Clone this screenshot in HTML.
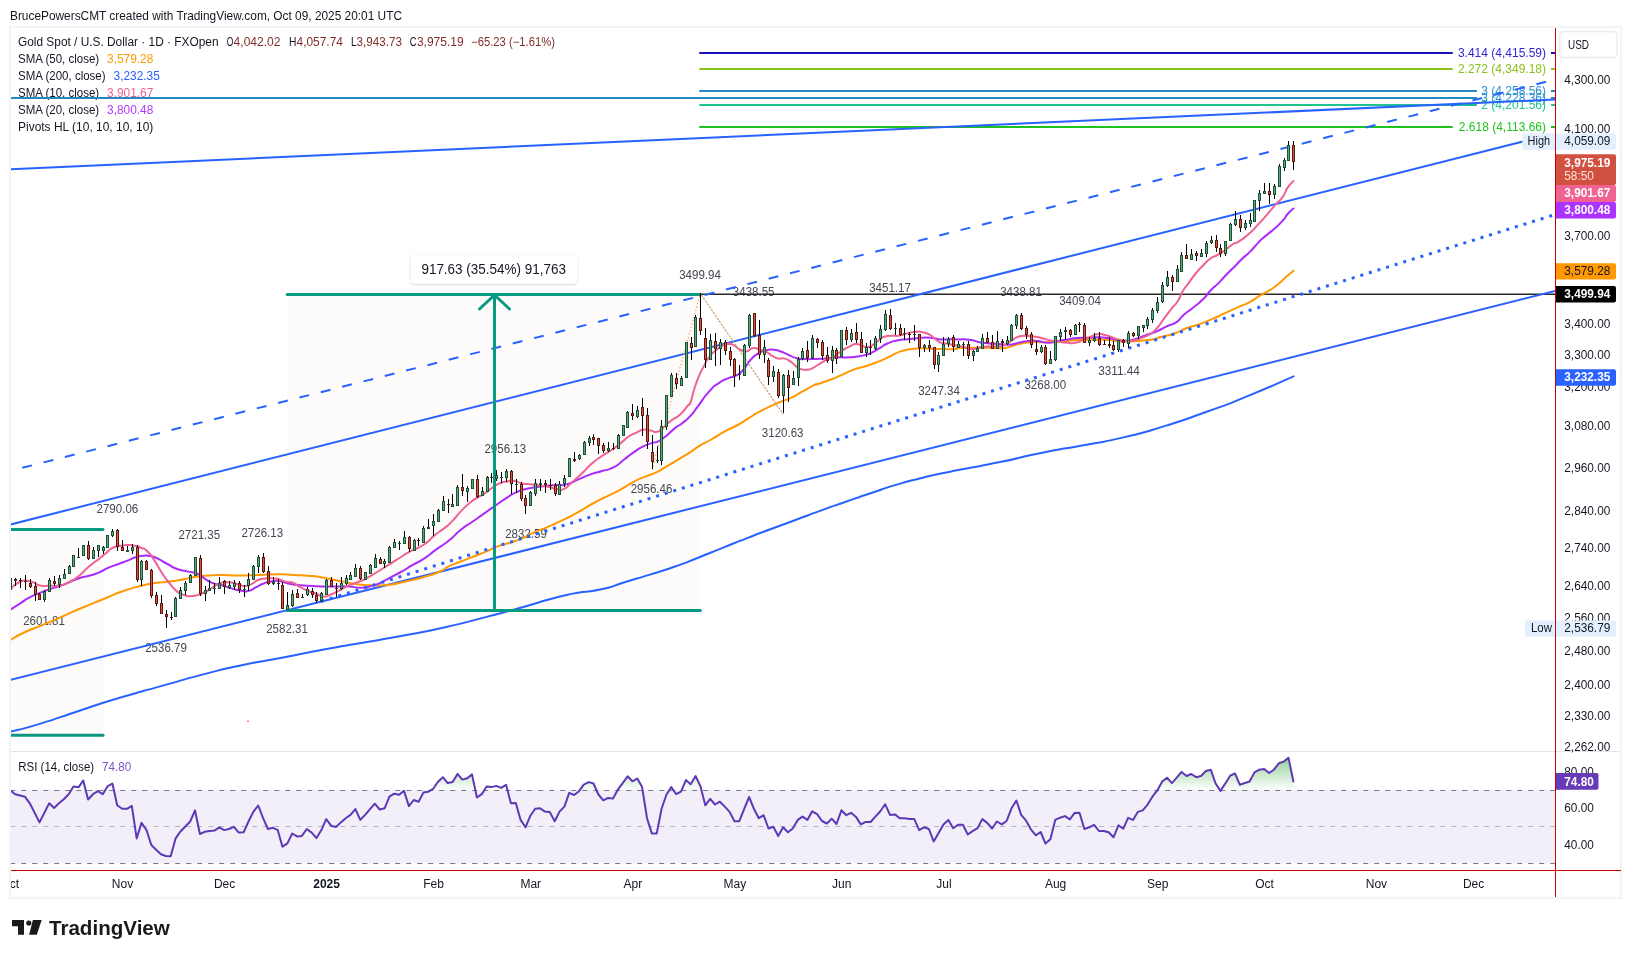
<!DOCTYPE html>
<html><head><meta charset="utf-8"><title>Chart</title>
<style>html,body{margin:0;padding:0;background:#fff;overflow:hidden}svg{display:block;will-change:transform;opacity:0.9999}</style></head>
<body>
<svg width="1631" height="958" viewBox="0 0 1631 958" font-family='"Liberation Sans", sans-serif'>
<defs>
<clipPath id="main"><rect x="11" y="28" width="1544" height="723"/></clipPath>
<clipPath id="rsi"><rect x="11" y="752" width="1544" height="118"/></clipPath>
<clipPath id="ob"><rect x="11" y="752" width="1544" height="38.4"/></clipPath>
<linearGradient id="gg" x1="0" y1="735.4" x2="0" y2="790.4" gradientUnits="userSpaceOnUse"><stop offset="0" stop-color="#4caf50" stop-opacity="1"/><stop offset="1" stop-color="#4caf50" stop-opacity="0"/></linearGradient>
<filter id="sh" x="-10%" y="-30%" width="120%" height="170%"><feDropShadow dx="0" dy="1" stdDeviation="1.5" flood-color="#000" flood-opacity="0.18"/></filter>
</defs>
<rect x="0.0" y="0.0" width="1631.0" height="958.0" fill="#ffffff" />
<text x="10.0" y="19.6" font-size="12.6" fill="#131722" text-anchor="start" textLength="392.0" lengthAdjust="spacingAndGlyphs" >BrucePowersCMT created with TradingView.com, Oct 09, 2025 20:01 UTC</text>
<rect x="10" y="27" width="1611" height="871" fill="#ffffff" stroke="#f4f4f4" stroke-width="2"/>
<g clip-path="url(#main)">
<rect x="11.0" y="529.5" width="92.5" height="206.0" fill="#fdfcfb" />
<rect x="287.0" y="294.3" width="413.8" height="316.0" fill="#fdfcfb" />
<text x="117.4" y="513.2" font-size="12" fill="#434651" text-anchor="middle" textLength="41.7" lengthAdjust="spacingAndGlyphs" >2790.06</text>
<text x="199.3" y="539.1" font-size="12" fill="#434651" text-anchor="middle" textLength="41.7" lengthAdjust="spacingAndGlyphs" >2721.35</text>
<text x="262.3" y="537.3" font-size="12" fill="#434651" text-anchor="middle" textLength="41.7" lengthAdjust="spacingAndGlyphs" >2726.13</text>
<text x="44.0" y="625.3" font-size="12" fill="#434651" text-anchor="middle" textLength="41.7" lengthAdjust="spacingAndGlyphs" >2601.81</text>
<text x="166.0" y="652.3" font-size="12" fill="#434651" text-anchor="middle" textLength="41.7" lengthAdjust="spacingAndGlyphs" >2536.79</text>
<text x="287.0" y="633.3" font-size="12" fill="#434651" text-anchor="middle" textLength="41.7" lengthAdjust="spacingAndGlyphs" >2582.31</text>
<text x="505.3" y="453.3" font-size="12" fill="#434651" text-anchor="middle" textLength="41.7" lengthAdjust="spacingAndGlyphs" >2956.13</text>
<text x="526.0" y="537.6" font-size="12" fill="#434651" text-anchor="middle" textLength="41.7" lengthAdjust="spacingAndGlyphs" >2832.59</text>
<text x="651.5" y="493.3" font-size="12" fill="#434651" text-anchor="middle" textLength="41.7" lengthAdjust="spacingAndGlyphs" >2956.46</text>
<text x="700.0" y="278.5" font-size="12" fill="#434651" text-anchor="middle" textLength="41.7" lengthAdjust="spacingAndGlyphs" >3499.94</text>
<text x="753.7" y="295.7" font-size="12" fill="#434651" text-anchor="middle" textLength="41.7" lengthAdjust="spacingAndGlyphs" >3438.55</text>
<text x="782.7" y="437.3" font-size="12" fill="#434651" text-anchor="middle" textLength="41.7" lengthAdjust="spacingAndGlyphs" >3120.63</text>
<text x="890.0" y="291.8" font-size="12" fill="#434651" text-anchor="middle" textLength="41.7" lengthAdjust="spacingAndGlyphs" >3451.17</text>
<text x="939.0" y="395.3" font-size="12" fill="#434651" text-anchor="middle" textLength="41.7" lengthAdjust="spacingAndGlyphs" >3247.34</text>
<text x="1021.0" y="296.3" font-size="12" fill="#434651" text-anchor="middle" textLength="41.7" lengthAdjust="spacingAndGlyphs" >3438.81</text>
<text x="1045.3" y="388.8" font-size="12" fill="#434651" text-anchor="middle" textLength="41.7" lengthAdjust="spacingAndGlyphs" >3268.00</text>
<text x="1080.0" y="305.3" font-size="12" fill="#434651" text-anchor="middle" textLength="41.7" lengthAdjust="spacingAndGlyphs" >3409.04</text>
<text x="1119.0" y="375.3" font-size="12" fill="#434651" text-anchor="middle" textLength="41.7" lengthAdjust="spacingAndGlyphs" >3311.44</text>
<line x1="699.3" y1="53.0" x2="1452.7" y2="53.0" stroke="#1a12b8" stroke-width="2" />
<line x1="1551.0" y1="53.0" x2="1555.0" y2="53.0" stroke="#1a12b8" stroke-width="2" />
<text x="1546.0" y="56.9" font-size="12" fill="#3324d6" text-anchor="end" >3.414 (4,415.59)</text>
<line x1="699.3" y1="69.0" x2="1452.7" y2="69.0" stroke="#8bc21a" stroke-width="2" />
<line x1="1551.0" y1="69.0" x2="1555.0" y2="69.0" stroke="#8bc21a" stroke-width="2" />
<text x="1546.0" y="72.9" font-size="12" fill="#8bc21a" text-anchor="end" >2.272 (4,349.18)</text>
<line x1="699.3" y1="91.0" x2="1476.9" y2="91.0" stroke="#2389c4" stroke-width="2" />
<line x1="1551.0" y1="91.0" x2="1555.0" y2="91.0" stroke="#2389c4" stroke-width="2" />
<text x="1546.0" y="94.9" font-size="12" fill="#2b93d1" text-anchor="end" >3 (4,258.56)</text>
<line x1="11.0" y1="98.0" x2="1476.9" y2="98.0" stroke="#2389c4" stroke-width="2" />
<line x1="1551.0" y1="98.0" x2="1555.0" y2="98.0" stroke="#2389c4" stroke-width="2" />
<text x="1546.0" y="101.9" font-size="12" fill="#2b93d1" text-anchor="end" >3 (4,228.36)</text>
<line x1="699.3" y1="105.0" x2="1476.9" y2="105.0" stroke="#1fc48c" stroke-width="2" />
<line x1="1551.0" y1="105.0" x2="1555.0" y2="105.0" stroke="#1fc48c" stroke-width="2" />
<text x="1546.0" y="108.9" font-size="12" fill="#1fc48c" text-anchor="end" >2 (4,201.56)</text>
<line x1="699.3" y1="127.0" x2="1452.7" y2="127.0" stroke="#1ec31e" stroke-width="2" />
<line x1="1551.0" y1="127.0" x2="1555.0" y2="127.0" stroke="#1ec31e" stroke-width="2" />
<text x="1546.0" y="130.9" font-size="12" fill="#1ec31e" text-anchor="end" >2.618 (4,113.66)</text>
<line x1="700.6" y1="294.3" x2="1555.0" y2="294.3" stroke="#2a2a2a" stroke-width="1.6" />
<line x1="10.0" y1="169.3" x2="1555.0" y2="99.5" stroke="#2962ff" stroke-width="2" />
<line x1="10.4" y1="524.5" x2="1523.0" y2="141.5" stroke="#2962ff" stroke-width="2" />
<line x1="10.0" y1="680.0" x2="1555.0" y2="291.0" stroke="#2962ff" stroke-width="2" />
<line x1="10.4" y1="470.8" x2="1546.0" y2="81.8" stroke="#2962ff" stroke-width="2" stroke-dasharray="10,12" stroke-dashoffset="9.8"/>
<path d="M10.1,731.7 C20.2,729.0 16.9,730.8 40.5,723.6 C64.1,716.4 53.9,719.0 80.9,710.2 C107.9,701.4 94.4,705.4 121.4,697.3 C148.4,689.2 134.9,693.5 161.9,685.9 C188.9,678.3 175.3,681.6 202.3,674.6 C229.3,667.6 215.8,670.6 242.8,664.9 C269.8,659.2 256.3,662.7 283.3,657.6 C310.3,652.5 296.8,654.5 323.8,649.5 C350.8,644.5 337.2,647.3 364.2,642.6 C391.2,637.9 377.7,640.4 404.7,635.3 C431.7,630.2 418.2,633.3 445.2,627.2 C472.2,621.1 458.6,624.1 485.6,617.1 C512.6,610.1 499.1,613.6 526.1,606.2 C553.1,598.8 542.0,600.4 566.6,594.9 C591.2,589.4 580.7,593.8 600.0,589.6 C619.3,585.4 608.2,587.1 624.5,582.2 C640.8,577.3 632.6,580.0 649.0,574.9 C665.4,569.8 657.2,572.7 673.6,567.0 C690.0,561.3 681.8,564.1 698.1,557.7 C714.4,551.3 706.3,554.4 722.6,547.9 C738.9,541.4 730.7,544.5 747.1,538.1 C763.5,531.7 755.3,534.9 771.7,528.8 C788.1,522.7 779.9,525.8 796.2,519.7 C812.5,513.6 804.4,516.5 820.7,510.6 C837.0,504.7 828.8,507.7 845.2,502.0 C861.6,496.3 853.4,499.0 869.8,493.5 C886.2,488.0 878.0,490.3 894.3,485.4 C910.6,480.5 902.5,482.8 918.8,478.7 C935.1,474.6 926.9,476.6 943.3,473.1 C959.7,469.6 949.0,471.9 967.9,468.2 C986.8,464.5 974.4,467.4 1000.0,462.1 C1025.6,456.8 1016.3,458.0 1044.7,452.3 C1073.1,446.6 1058.2,450.1 1085.2,445.0 C1112.2,439.9 1098.6,443.4 1125.6,436.9 C1152.6,430.4 1139.1,434.0 1166.1,425.6 C1193.1,417.2 1179.6,421.5 1206.6,411.8 C1233.6,402.1 1218.0,408.2 1247.0,396.4 C1276.0,384.6 1278.1,383.1 1293.6,376.4" fill="none" stroke="#2962ff" stroke-width="2" stroke-linejoin="round" stroke-linecap="round" />
<path d="M10.1,640.2 C15.1,637.5 13.6,637.3 25.2,632.0 C36.7,626.6 31.7,629.6 44.8,624.1 C57.9,618.7 51.3,621.3 64.4,615.6 C77.5,609.8 70.9,612.5 84.0,607.0 C97.1,601.5 90.6,604.3 103.6,599.0 C116.7,593.7 110.2,595.5 123.3,591.0 C136.3,586.5 132.3,588.2 142.9,585.5 C153.5,582.9 147.0,584.3 155.1,583.1 C163.3,581.8 159.2,582.9 167.4,581.8 C175.6,580.8 171.5,581.4 179.7,580.0 C187.8,578.6 184.4,578.8 191.9,577.5 C199.5,576.2 192.7,577.0 202.3,576.1 C211.8,575.2 208.4,575.1 220.7,574.9 C232.9,574.7 226.4,575.5 239.0,575.5 C251.7,575.5 245.6,575.3 258.7,574.9 C271.7,574.5 266.4,574.3 278.3,574.3 C290.1,574.3 283.6,574.4 294.2,574.9 C304.9,575.4 300.0,574.9 310.2,575.9 C320.4,576.9 315.9,576.4 324.9,578.0 C333.9,579.5 329.0,578.8 337.1,580.4 C345.3,582.0 341.2,581.4 349.4,582.9 C357.6,584.3 353.5,583.9 361.7,584.7 C369.8,585.5 364.5,585.3 373.9,585.3 C383.4,585.3 379.4,586.0 390.0,584.7 C400.6,583.4 394.3,584.0 405.7,581.4 C417.0,578.9 413.0,580.2 424.0,577.0 C435.1,573.9 429.8,575.9 438.8,572.0 C447.8,568.1 441.2,569.8 451.0,565.4 C460.8,560.9 456.7,563.1 468.2,558.6 C479.6,554.1 475.6,556.0 485.4,551.9 C495.2,547.8 489.4,549.4 497.6,546.4 C505.8,543.3 501.7,545.3 509.9,542.7 C518.1,540.0 514.0,541.9 522.1,538.4 C530.3,534.9 526.2,535.9 534.4,532.3 C542.6,528.6 538.5,530.8 546.7,527.3 C554.8,523.9 549.5,526.3 558.9,521.8 C568.4,517.3 562.8,520.5 575.0,513.9 C587.2,507.2 584.2,508.1 595.6,502.0 C606.9,495.8 600.5,499.6 609.0,495.4 C617.6,491.1 613.1,493.7 621.3,489.2 C629.5,484.7 625.4,486.2 633.6,481.9 C641.7,477.6 638.5,479.4 645.8,476.4 C653.2,473.3 649.1,475.7 655.6,472.7 C662.2,469.6 658.1,471.5 665.5,467.2 C672.8,462.9 669.5,464.7 677.7,459.8 C685.9,454.9 682.6,457.1 690.0,452.4 C697.3,447.7 692.4,450.2 699.8,445.7 C707.1,441.2 703.9,443.7 712.1,439.0 C720.2,434.3 716.1,436.1 724.3,431.6 C732.5,427.1 728.4,430.0 736.6,425.5 C744.8,421.0 741.0,422.8 748.8,418.1 C756.6,413.4 749.6,416.7 760.0,411.4 C770.4,406.0 770.1,406.3 780.1,402.0 C790.0,397.7 782.5,401.9 789.9,398.4 C797.2,395.0 794.0,396.2 802.1,391.7 C810.3,387.2 809.7,387.3 814.4,384.9 C819.1,382.6 811.6,386.2 816.3,384.6 C821.0,383.1 820.4,383.4 828.6,380.3 C836.7,377.3 832.7,378.9 840.8,375.4 C849.0,371.9 844.9,373.0 853.1,369.9 C861.3,366.8 857.2,368.9 865.4,366.2 C873.5,363.6 869.4,365.2 877.6,361.9 C885.8,358.7 881.7,360.1 889.9,356.4 C898.1,352.7 894.0,353.4 902.1,350.9 C910.3,348.4 906.2,349.6 914.4,348.8 C922.6,348.0 918.5,348.4 926.7,348.4 C934.8,348.5 929.5,348.8 938.9,349.0 C948.4,349.3 948.9,349.4 955.0,349.0 C961.1,348.7 952.4,348.3 957.3,348.0 C962.1,347.6 961.3,348.1 969.5,348.0 C977.7,347.9 973.6,347.7 981.8,347.7 C990.0,347.7 985.9,348.0 994.0,348.0 C1002.2,348.0 998.1,349.0 1006.3,347.7 C1014.5,346.4 1010.4,345.9 1018.6,344.0 C1026.7,342.2 1022.7,342.8 1030.8,342.2 C1039.0,341.6 1034.9,342.2 1043.1,342.2 C1051.3,342.2 1047.2,342.6 1055.4,342.2 C1063.5,341.8 1059.4,341.8 1067.6,341.0 C1075.8,340.2 1071.7,340.2 1079.9,339.8 C1088.1,339.3 1084.0,339.8 1092.1,339.8 C1100.3,339.8 1096.2,339.3 1104.4,339.8 C1112.6,340.2 1108.5,340.5 1116.7,341.0 C1124.8,341.5 1118.0,341.7 1128.9,341.4 C1139.9,341.0 1138.6,341.4 1149.5,339.8 C1160.5,338.3 1153.6,338.8 1161.8,336.8 C1170.0,334.7 1165.9,336.6 1174.0,333.7 C1182.2,330.9 1178.1,331.3 1186.3,328.2 C1194.5,325.1 1190.4,327.4 1198.6,324.5 C1206.7,321.7 1201.8,323.5 1210.8,319.6 C1219.8,315.7 1216.6,317.0 1225.6,312.9 C1234.5,308.8 1229.6,311.0 1237.8,307.3 C1246.0,303.7 1242.7,305.7 1250.1,301.8 C1257.4,297.9 1253.3,299.6 1259.9,295.7 C1266.4,291.8 1263.6,294.1 1269.7,290.2 C1275.8,286.3 1273.0,288.3 1278.3,284.0 C1283.6,279.8 1280.5,281.7 1285.6,277.3 C1290.7,272.9 1291.0,273.0 1293.6,270.8" fill="none" stroke="#ff9800" stroke-width="2" stroke-linejoin="round" stroke-linecap="round" />
<path d="M10.7,609.4 C13.9,607.4 13.8,607.4 20.3,603.3 C26.7,599.2 23.5,600.6 30.1,597.2 C36.6,593.7 33.3,595.5 39.9,592.9 C46.4,590.2 43.2,591.4 49.7,589.2 C56.2,586.9 53.0,588.4 59.5,586.1 C66.0,583.9 62.8,585.1 69.3,582.4 C75.9,579.8 72.6,580.4 79.1,578.2 C85.7,575.9 82.4,577.5 88.9,575.7 C95.5,573.9 92.2,575.3 98.7,572.6 C105.3,570.0 102.0,570.6 108.6,567.7 C115.1,564.9 111.8,566.5 118.4,564.0 C124.9,561.6 122.4,562.6 128.2,560.4 C133.9,558.1 130.6,558.8 135.5,557.3 C140.4,555.8 138.0,556.2 142.9,555.8 C147.8,555.4 145.3,555.2 150.2,556.1 C155.1,557.0 151.9,555.9 157.6,558.5 C163.3,561.2 160.9,560.6 167.4,564.0 C174.0,567.5 170.7,566.5 177.2,569.0 C183.8,571.4 180.3,569.8 187.0,571.4 C193.7,573.0 191.5,571.3 197.4,573.7 C203.3,576.1 199.8,575.5 204.7,578.6 C209.6,581.6 206.3,580.6 212.1,582.9 C217.8,585.1 215.3,583.5 221.9,585.3 C228.4,587.2 225.2,586.5 231.7,588.4 C238.2,590.2 235.8,590.0 241.5,590.8 C247.2,591.7 244.0,592.1 248.9,590.8 C253.8,589.6 251.3,589.6 256.2,587.2 C261.1,584.7 258.7,585.3 263.6,583.5 C268.5,581.6 266.0,582.5 270.9,581.6 C275.8,580.8 272.6,580.4 278.3,581.0 C284.0,581.6 280.7,582.0 288.1,583.5 C295.5,584.9 292.2,584.5 300.4,585.3 C308.5,586.1 304.4,585.5 312.6,585.9 C320.8,586.3 316.7,586.3 324.9,586.5 C333.1,586.7 329.0,586.5 337.1,586.5 C345.3,586.5 341.2,586.1 349.4,586.5 C357.6,587.0 354.3,588.0 361.7,587.8 C369.0,587.6 364.9,587.8 371.5,585.9 C378.0,584.1 371.5,586.9 381.3,582.3 C391.0,577.6 390.6,577.6 400.8,572.0 C410.9,566.4 404.0,569.8 411.8,565.4 C419.6,560.9 415.9,563.9 424.0,558.6 C432.2,553.3 428.1,555.3 436.3,549.4 C444.5,543.5 440.4,547.4 448.6,540.8 C456.7,534.3 452.7,536.3 460.8,529.8 C469.0,523.3 464.9,526.9 473.1,521.2 C481.3,515.5 477.2,518.4 485.4,512.6 C493.5,506.9 490.3,509.2 497.6,504.0 C505.0,498.9 500.9,501.4 507.4,497.3 C514.0,493.2 510.7,494.6 517.2,491.8 C523.8,488.9 520.5,490.3 527.1,488.7 C533.6,487.2 530.3,488.1 536.9,487.1 C543.4,486.1 540.1,486.4 546.7,485.7 C553.2,485.0 549.9,485.5 556.5,485.0 C563.0,484.6 558.6,486.5 566.3,484.4 C574.0,482.4 571.1,482.3 579.6,478.8 C588.1,475.3 584.1,476.6 591.9,473.9 C599.6,471.2 595.6,473.1 602.9,470.8 C610.3,468.6 607.0,470.8 614.0,467.2 C620.9,463.5 617.2,464.7 623.8,459.8 C630.3,454.9 627.0,456.9 633.6,452.4 C640.1,447.9 636.8,449.6 643.4,446.3 C649.9,443.0 648.3,444.3 653.2,442.6 C658.1,441.0 654.0,443.5 658.1,441.4 C662.2,439.4 659.7,441.0 665.5,436.5 C671.2,432.0 669.5,432.4 675.3,427.9 C681.0,423.4 677.3,427.3 682.6,423.0 C687.9,418.7 686.3,420.4 691.2,415.0 C696.1,409.7 691.4,414.9 697.3,407.1 C703.3,399.3 701.8,399.7 709.0,391.7 C716.1,383.7 712.2,387.6 718.8,383.1 C725.3,378.6 722.9,380.6 728.6,378.2 C734.3,375.7 731.0,378.6 735.9,375.7 C740.8,372.9 738.4,374.9 743.3,369.6 C748.2,364.3 745.7,365.1 750.6,359.8 C755.6,354.5 753.1,356.7 758.0,353.7 C762.9,350.6 760.5,351.9 765.4,350.6 C770.3,349.3 767.8,349.5 772.7,349.7 C777.6,349.9 775.2,349.7 780.1,351.2 C785.0,352.7 781.9,351.9 787.4,354.3 C793.0,356.6 790.3,356.6 796.7,358.2 C803.0,359.9 800.0,358.9 806.5,359.1 C813.0,359.3 809.8,359.0 816.3,358.9 C822.9,358.7 819.6,359.1 826.1,358.6 C832.7,358.1 829.4,357.8 835.9,357.4 C842.5,357.0 839.2,357.6 845.7,357.4 C852.3,357.1 849.0,357.5 855.6,356.7 C862.1,355.8 859.6,356.4 865.4,354.9 C871.1,353.4 867.8,354.5 872.7,352.1 C877.6,349.7 875.2,350.7 880.1,347.8 C885.0,345.0 881.7,346.0 887.4,343.5 C893.2,341.1 890.7,341.9 897.2,340.5 C903.8,339.0 900.5,340.0 907.1,339.2 C913.6,338.5 910.3,338.9 916.9,338.3 C923.4,337.6 921.0,337.4 926.7,337.4 C932.4,337.4 929.1,337.6 934.0,338.3 C938.9,339.0 936.5,339.2 941.4,339.5 C946.3,339.8 943.5,339.3 948.7,339.2 C954.0,339.2 950.3,339.2 957.3,339.4 C964.2,339.6 962.2,338.8 969.5,339.8 C976.9,340.7 972.8,341.0 979.3,342.2 C985.9,343.4 982.6,342.8 989.1,343.4 C995.7,344.0 992.4,343.6 999.0,344.0 C1005.5,344.5 1002.2,345.1 1008.8,344.7 C1015.3,344.3 1012.0,344.0 1018.6,342.8 C1025.1,341.6 1021.8,341.6 1028.4,341.0 C1034.9,340.4 1031.7,340.4 1038.2,341.0 C1044.7,341.6 1041.5,342.8 1048.0,342.8 C1054.5,342.8 1051.3,342.1 1057.8,341.0 C1064.4,339.8 1061.1,340.4 1067.6,339.4 C1074.2,338.4 1070.9,338.5 1077.4,337.9 C1084.0,337.3 1080.7,337.9 1087.2,337.7 C1093.8,337.5 1090.5,337.2 1097.1,337.3 C1103.6,337.4 1100.3,337.1 1106.9,337.9 C1113.4,338.7 1110.1,338.9 1116.7,339.8 C1123.2,340.7 1120.4,340.8 1126.5,340.6 C1132.5,340.4 1128.8,340.9 1134.8,339.2 C1140.9,337.5 1137.3,338.2 1144.6,335.6 C1152.0,332.9 1149.5,334.3 1156.9,331.3 C1164.2,328.2 1160.2,329.4 1166.7,326.4 C1173.2,323.3 1170.8,325.9 1176.5,322.1 C1182.2,318.2 1178.1,319.6 1183.9,314.7 C1189.6,309.8 1187.1,312.7 1193.7,307.3 C1200.2,302.0 1197.8,304.5 1203.5,298.8 C1209.2,293.0 1205.9,295.3 1210.8,290.2 C1215.7,285.1 1213.3,288.3 1218.2,283.4 C1223.1,278.5 1219.8,281.4 1225.6,275.5 C1231.3,269.5 1229.6,271.4 1235.4,265.7 C1241.1,259.9 1237.8,263.0 1242.7,258.3 C1247.6,253.6 1245.2,256.5 1250.1,251.6 C1255.0,246.6 1253.1,248.1 1257.4,243.6 C1261.8,239.0 1257.9,242.5 1263.1,237.9 C1268.3,233.4 1266.4,235.7 1272.9,229.9 C1279.4,224.2 1277.8,226.1 1282.7,220.7 C1287.6,215.4 1284.0,218.1 1287.6,214.0 C1291.2,209.9 1291.5,210.3 1293.5,208.5" fill="none" stroke="#ab2bfb" stroke-width="2" stroke-linejoin="round" stroke-linecap="round" />
<path d="M10.7,588.6 C13.9,586.3 13.8,584.3 20.3,581.8 C26.7,579.4 23.5,580.0 30.1,581.2 C36.6,582.4 33.3,584.1 39.9,585.5 C46.4,586.9 43.2,585.5 49.7,585.5 C56.2,585.5 53.0,586.7 59.5,585.5 C66.0,584.3 62.8,585.1 69.3,581.8 C75.9,578.6 72.6,580.8 79.1,575.7 C85.7,570.6 82.4,572.0 88.9,566.5 C95.5,561.0 93.0,563.6 98.7,559.1 C104.5,554.6 101.2,556.9 106.1,553.0 C111.0,549.1 107.7,550.0 113.5,547.5 C119.2,545.0 116.7,546.1 123.3,545.4 C129.8,544.7 127.4,544.7 133.1,545.4 C138.8,546.1 135.5,545.4 140.4,547.5 C145.3,549.6 142.9,547.1 147.8,551.8 C152.7,556.5 150.2,554.2 155.1,561.6 C160.1,569.0 157.6,566.5 162.5,573.9 C167.4,581.2 165.0,577.7 169.9,583.7 C174.8,589.6 172.3,587.8 177.2,591.6 C182.1,595.5 180.5,593.8 184.6,595.3 C188.7,596.8 185.2,596.2 189.5,596.2 C193.7,596.1 193.1,596.1 197.4,595.1 C201.6,594.2 198.2,595.1 202.3,593.3 C206.3,591.5 203.9,592.9 209.6,589.6 C215.3,586.3 212.9,585.9 219.4,583.5 C226.0,581.0 222.7,581.8 229.2,582.3 C235.8,582.7 233.7,583.5 239.0,584.7 C244.4,585.9 241.1,586.1 245.2,585.9 C249.3,585.7 246.8,586.1 251.3,584.1 C255.8,582.0 253.8,581.6 258.7,579.8 C263.6,578.0 260.3,579.0 266.0,578.6 C271.7,578.2 269.3,577.6 275.8,578.6 C282.4,579.6 279.9,580.2 285.6,581.6 C291.4,583.1 288.1,581.0 293.0,582.9 C297.9,584.7 295.5,584.5 300.4,587.2 C305.3,589.8 302.8,588.8 307.7,590.8 C312.6,592.9 309.8,591.5 315.1,593.3 C320.4,595.1 318.3,595.9 323.7,596.4 C329.0,596.8 325.3,596.8 331.0,594.5 C336.7,592.3 334.3,592.9 340.8,589.6 C347.4,586.3 344.1,587.6 350.6,584.7 C357.2,581.8 353.9,583.9 360.4,581.0 C367.0,578.2 360.5,581.8 370.3,576.1 C380.0,570.5 380.0,570.2 389.7,564.1 C399.5,558.1 393.0,562.1 399.5,558.0 C406.1,553.9 401.2,556.4 409.3,551.9 C417.5,547.4 415.9,549.8 424.0,544.5 C432.2,539.2 427.3,541.2 433.9,535.9 C440.4,530.6 437.9,533.1 443.7,528.6 C449.4,524.1 445.3,528.2 451.0,522.4 C456.7,516.7 454.3,518.2 460.8,511.4 C467.4,504.7 464.9,506.9 470.6,502.2 C476.4,497.5 473.1,500.4 478.0,497.3 C482.9,494.2 480.5,496.3 485.4,493.0 C490.3,489.7 487.8,490.8 492.7,487.5 C497.6,484.2 495.2,485.2 500.1,483.2 C505.0,481.2 502.5,482.1 507.4,481.4 C512.3,480.6 509.9,480.3 514.8,481.0 C519.7,481.7 516.4,482.3 522.1,483.4 C527.9,484.6 525.8,483.7 532.0,484.4 C538.1,485.2 534.8,484.8 540.5,485.7 C546.3,486.6 543.8,486.0 549.1,487.1 C554.4,488.3 551.6,488.4 556.5,489.1 C561.4,489.7 558.6,491.5 563.8,489.1 C569.1,486.7 566.2,487.1 572.3,481.9 C578.3,476.6 575.5,479.4 582.1,473.3 C588.6,467.2 585.3,469.2 591.9,463.5 C598.4,457.8 595.2,460.6 601.7,456.1 C608.2,451.6 605.0,454.5 611.5,450.0 C618.0,445.5 615.6,447.1 621.3,442.6 C627.0,438.1 623.8,439.8 628.7,436.5 C633.6,433.2 631.1,435.1 636.0,432.8 C640.9,430.6 638.5,430.5 643.4,429.8 C648.3,429.0 646.2,429.9 650.7,430.6 C655.2,431.3 652.8,432.7 656.9,431.8 C661.0,430.9 658.5,431.5 663.0,427.9 C667.5,424.4 664.6,425.7 670.4,421.2 C676.1,416.7 674.4,419.5 680.2,414.4 C685.9,409.3 684.1,410.0 687.5,405.8 C691.0,401.7 688.3,407.5 690.6,402.0 C692.8,396.4 691.4,398.0 694.2,389.2 C697.1,380.5 695.9,383.5 699.1,375.7 C702.4,368.0 700.8,372.1 704.0,365.9 C707.3,359.8 704.9,362.7 709.0,357.3 C713.0,352.0 711.4,354.1 716.3,350.0 C721.2,345.9 719.6,347.1 723.7,345.1 C727.8,343.0 725.3,343.9 728.6,343.9 C731.8,343.9 729.4,343.0 733.5,345.1 C737.6,347.1 736.3,347.9 740.8,350.0 C745.3,352.0 742.9,351.8 747.0,351.2 C751.1,350.6 748.6,348.6 753.1,348.2 C757.6,347.7 756.4,349.0 760.5,350.0 C764.5,351.0 761.3,349.2 765.4,351.2 C769.4,353.3 768.2,353.7 772.7,356.1 C777.2,358.6 774.8,357.8 778.9,358.6 C782.9,359.4 780.7,357.3 785.0,358.6 C789.3,359.9 787.9,359.8 791.8,362.5 C795.7,365.3 793.4,364.6 796.7,366.8 C800.0,369.1 797.9,368.3 801.6,369.3 C805.3,370.2 804.0,370.1 807.7,369.7 C811.4,369.2 809.0,369.8 812.6,368.1 C816.3,366.3 814.3,367.0 818.8,364.4 C823.3,361.7 821.2,362.5 826.1,360.1 C831.0,357.6 828.6,359.9 833.5,357.0 C838.4,354.2 835.9,354.8 840.8,351.5 C845.7,348.2 843.3,349.7 848.2,347.2 C853.1,344.8 851.1,344.7 855.6,344.1 C860.0,343.6 857.6,344.6 861.7,345.6 C865.8,346.6 863.7,347.7 867.8,347.2 C871.9,346.7 869.9,346.8 873.9,344.1 C878.0,341.5 876.4,341.8 880.1,339.2 C883.8,336.7 880.9,337.7 885.0,336.5 C889.1,335.4 887.4,336.1 892.3,335.8 C897.2,335.5 894.8,336.4 899.7,335.6 C904.6,334.7 902.1,334.6 907.1,333.4 C912.0,332.1 909.5,332.3 914.4,331.9 C919.3,331.5 916.9,331.3 921.8,332.1 C926.7,332.9 925.0,332.4 929.1,334.3 C933.2,336.3 930.4,335.4 934.0,338.0 C937.7,340.7 936.1,340.5 940.2,342.3 C944.2,344.1 942.2,342.7 946.3,343.5 C950.4,344.3 947.1,343.7 952.4,344.7 C957.6,345.7 955.6,345.1 962.2,346.5 C968.7,347.9 965.4,348.8 972.0,349.0 C978.5,349.2 975.2,347.9 981.8,347.1 C988.3,346.3 985.9,346.8 991.6,346.5 C997.3,346.2 994.0,347.1 999.0,346.3 C1003.9,345.4 1001.4,346.4 1006.3,344.0 C1011.2,341.7 1008.8,341.8 1013.7,339.1 C1018.6,336.5 1016.1,337.1 1021.0,336.1 C1025.9,335.1 1023.5,335.9 1028.4,336.1 C1033.3,336.3 1030.8,335.9 1035.7,336.7 C1040.6,337.5 1038.2,337.3 1043.1,338.5 C1048.0,339.8 1045.6,339.3 1050.5,340.4 C1055.4,341.4 1052.1,340.8 1057.8,341.6 C1063.5,342.4 1061.9,342.4 1067.6,342.8 C1073.3,343.2 1070.1,343.6 1075.0,342.8 C1079.9,342.0 1077.4,342.2 1082.3,340.4 C1087.2,338.5 1084.8,339.3 1089.7,337.3 C1094.6,335.3 1092.1,335.1 1097.1,334.2 C1102.0,333.4 1099.5,333.8 1104.4,334.9 C1109.3,335.9 1106.9,335.7 1111.8,337.3 C1116.7,338.9 1114.2,338.5 1119.1,339.8 C1124.0,341.0 1122.1,340.7 1126.5,341.0 C1130.9,341.3 1127.9,341.5 1132.4,340.7 C1136.8,339.9 1134.0,340.7 1139.7,338.6 C1145.4,336.5 1143.8,337.8 1149.5,334.3 C1155.2,330.9 1152.0,333.5 1156.9,328.2 C1161.8,322.9 1159.3,324.9 1164.2,318.4 C1169.1,311.8 1167.1,314.3 1171.6,308.6 C1176.1,302.9 1174.0,306.9 1177.7,301.2 C1181.4,295.5 1179.0,297.5 1182.6,291.4 C1186.3,285.3 1184.3,289.0 1188.8,282.8 C1193.3,276.7 1191.2,278.9 1196.1,273.0 C1201.0,267.1 1198.6,269.9 1203.5,265.0 C1208.4,260.1 1205.9,261.8 1210.8,258.3 C1215.7,254.8 1213.3,257.5 1218.2,254.6 C1223.1,251.8 1220.6,253.2 1225.6,249.7 C1230.5,246.2 1228.6,246.9 1232.9,244.2 C1237.3,241.5 1233.4,244.9 1238.6,241.6 C1243.7,238.3 1241.8,240.0 1248.4,234.2 C1254.9,228.5 1251.7,231.4 1258.2,224.4 C1264.7,217.5 1262.3,219.9 1268.0,213.4 C1273.7,206.8 1270.5,210.3 1275.4,204.8 C1280.3,199.3 1278.6,202.6 1282.7,196.8 C1286.8,191.1 1284.0,192.9 1287.6,187.6 C1291.2,182.3 1291.5,183.1 1293.5,180.9" fill="none" stroke="#f06292" stroke-width="2" stroke-linejoin="round" stroke-linecap="round" />
<g stroke="#089981" stroke-width="3" stroke-linecap="round" fill="none">
<line x1="11" y1="529.5" x2="103" y2="529.5"/><line x1="11" y1="735.3" x2="103" y2="735.3"/>
<line x1="287.2" y1="294.4" x2="700" y2="294.4"/><line x1="287.2" y1="610.4" x2="700.3" y2="610.4"/>
<line x1="494.5" y1="610.4" x2="494.5" y2="295.5"/>
<polyline points="479.5,309 494.5,295 509.5,309"/>
</g>
<line x1="321.0" y1="601.5" x2="1555.0" y2="214.6" stroke="#2962ff" stroke-width="3" stroke-dasharray="3,6" stroke-dashoffset="8.8"/>
<polyline points="652.0,469.6 700.4,293.5 783.2,414.3" fill="none" stroke="#f59a4a" stroke-width="1.2" stroke-linejoin="round" stroke-linecap="butt" stroke-dasharray="1.2,2.3"/>
<polyline points="700.4,293.5 783.2,414.3" fill="none" stroke="#9a9a9a" stroke-width="1.2" stroke-linejoin="round" stroke-linecap="butt" stroke-dasharray="1.2,2.3" stroke-dashoffset="1.75"/>
<g shape-rendering="crispEdges">
<rect x="10" y="574" width="1" height="16" fill="#000"/>
<rect x="9" y="578" width="3" height="12" fill="#1b5235"/>
<rect x="10" y="579" width="1" height="10" fill="#5fa57d"/>
<rect x="15" y="578" width="1" height="8" fill="#000"/>
<rect x="14" y="579" width="3" height="2" fill="#5e1810"/>
<rect x="20" y="578" width="1" height="10" fill="#000"/>
<rect x="19" y="580" width="3" height="1" fill="#5e1810"/>
<rect x="25" y="575" width="1" height="15" fill="#000"/>
<rect x="24" y="581" width="3" height="1" fill="#5e1810"/>
<rect x="30" y="579" width="1" height="9" fill="#000"/>
<rect x="29" y="583" width="3" height="4" fill="#5e1810"/>
<rect x="30" y="584" width="1" height="2" fill="#d8533d"/>
<rect x="35" y="582" width="1" height="19" fill="#000"/>
<rect x="34" y="586" width="3" height="9" fill="#5e1810"/>
<rect x="35" y="587" width="1" height="7" fill="#d8533d"/>
<rect x="39" y="593" width="1" height="7" fill="#000"/>
<rect x="38" y="594" width="3" height="6" fill="#5e1810"/>
<rect x="39" y="595" width="1" height="4" fill="#d8533d"/>
<rect x="44" y="590" width="1" height="12" fill="#000"/>
<rect x="43" y="591" width="3" height="9" fill="#1b5235"/>
<rect x="44" y="592" width="1" height="7" fill="#5fa57d"/>
<rect x="49" y="578" width="1" height="14" fill="#000"/>
<rect x="48" y="580" width="3" height="12" fill="#1b5235"/>
<rect x="49" y="581" width="1" height="10" fill="#5fa57d"/>
<rect x="54" y="576" width="1" height="10" fill="#000"/>
<rect x="53" y="581" width="3" height="3" fill="#5e1810"/>
<rect x="54" y="582" width="1" height="1" fill="#d8533d"/>
<rect x="59" y="575" width="1" height="13" fill="#000"/>
<rect x="58" y="578" width="3" height="7" fill="#1b5235"/>
<rect x="59" y="579" width="1" height="5" fill="#5fa57d"/>
<rect x="64" y="569" width="1" height="10" fill="#000"/>
<rect x="63" y="574" width="3" height="5" fill="#1b5235"/>
<rect x="64" y="575" width="1" height="3" fill="#5fa57d"/>
<rect x="69" y="565" width="1" height="9" fill="#000"/>
<rect x="68" y="566" width="3" height="8" fill="#1b5235"/>
<rect x="69" y="567" width="1" height="6" fill="#5fa57d"/>
<rect x="73" y="555" width="1" height="12" fill="#000"/>
<rect x="72" y="555" width="3" height="12" fill="#1b5235"/>
<rect x="73" y="556" width="1" height="10" fill="#5fa57d"/>
<rect x="78" y="548" width="1" height="10" fill="#000"/>
<rect x="77" y="557" width="3" height="1" fill="#1b5235"/>
<rect x="83" y="545" width="1" height="11" fill="#000"/>
<rect x="82" y="545" width="3" height="11" fill="#1b5235"/>
<rect x="83" y="546" width="1" height="9" fill="#5fa57d"/>
<rect x="88" y="541" width="1" height="19" fill="#000"/>
<rect x="87" y="545" width="3" height="14" fill="#5e1810"/>
<rect x="88" y="546" width="1" height="12" fill="#d8533d"/>
<rect x="93" y="547" width="1" height="12" fill="#000"/>
<rect x="92" y="550" width="3" height="9" fill="#1b5235"/>
<rect x="93" y="551" width="1" height="7" fill="#5fa57d"/>
<rect x="98" y="545" width="1" height="12" fill="#000"/>
<rect x="97" y="545" width="3" height="6" fill="#1b5235"/>
<rect x="98" y="546" width="1" height="4" fill="#5fa57d"/>
<rect x="103" y="546" width="1" height="8" fill="#000"/>
<rect x="102" y="547" width="3" height="4" fill="#1b5235"/>
<rect x="103" y="548" width="1" height="2" fill="#5fa57d"/>
<rect x="107" y="535" width="1" height="13" fill="#000"/>
<rect x="106" y="535" width="3" height="13" fill="#1b5235"/>
<rect x="107" y="536" width="1" height="11" fill="#5fa57d"/>
<rect x="112" y="529" width="1" height="8" fill="#000"/>
<rect x="111" y="531" width="3" height="5" fill="#1b5235"/>
<rect x="112" y="532" width="1" height="3" fill="#5fa57d"/>
<rect x="117" y="529" width="1" height="22" fill="#000"/>
<rect x="116" y="530" width="3" height="17" fill="#5e1810"/>
<rect x="117" y="531" width="1" height="15" fill="#d8533d"/>
<rect x="122" y="540" width="1" height="11" fill="#000"/>
<rect x="121" y="547" width="3" height="4" fill="#5e1810"/>
<rect x="122" y="548" width="1" height="2" fill="#d8533d"/>
<rect x="127" y="546" width="1" height="6" fill="#000"/>
<rect x="126" y="550" width="3" height="2" fill="#1b5235"/>
<rect x="132" y="544" width="1" height="10" fill="#000"/>
<rect x="131" y="547" width="3" height="4" fill="#1b5235"/>
<rect x="132" y="548" width="1" height="2" fill="#5fa57d"/>
<rect x="137" y="545" width="1" height="37" fill="#000"/>
<rect x="136" y="547" width="3" height="33" fill="#5e1810"/>
<rect x="137" y="548" width="1" height="31" fill="#d8533d"/>
<rect x="141" y="560" width="1" height="26" fill="#000"/>
<rect x="140" y="561" width="3" height="19" fill="#1b5235"/>
<rect x="141" y="562" width="1" height="17" fill="#5fa57d"/>
<rect x="146" y="560" width="1" height="10" fill="#000"/>
<rect x="145" y="561" width="3" height="9" fill="#5e1810"/>
<rect x="146" y="562" width="1" height="7" fill="#d8533d"/>
<rect x="151" y="569" width="1" height="29" fill="#000"/>
<rect x="150" y="570" width="3" height="26" fill="#5e1810"/>
<rect x="151" y="571" width="1" height="24" fill="#d8533d"/>
<rect x="156" y="592" width="1" height="14" fill="#000"/>
<rect x="155" y="595" width="3" height="9" fill="#5e1810"/>
<rect x="156" y="596" width="1" height="7" fill="#d8533d"/>
<rect x="161" y="595" width="1" height="19" fill="#000"/>
<rect x="160" y="603" width="3" height="11" fill="#5e1810"/>
<rect x="161" y="604" width="1" height="9" fill="#d8533d"/>
<rect x="166" y="610" width="1" height="18" fill="#000"/>
<rect x="165" y="614" width="3" height="3" fill="#5e1810"/>
<rect x="166" y="615" width="1" height="1" fill="#d8533d"/>
<rect x="171" y="612" width="1" height="8" fill="#000"/>
<rect x="170" y="617" width="3" height="1" fill="#5e1810"/>
<rect x="175" y="597" width="1" height="20" fill="#000"/>
<rect x="174" y="598" width="3" height="19" fill="#1b5235"/>
<rect x="175" y="599" width="1" height="17" fill="#5fa57d"/>
<rect x="180" y="587" width="1" height="12" fill="#000"/>
<rect x="179" y="590" width="3" height="9" fill="#1b5235"/>
<rect x="180" y="591" width="1" height="7" fill="#5fa57d"/>
<rect x="185" y="581" width="1" height="14" fill="#000"/>
<rect x="184" y="583" width="3" height="8" fill="#1b5235"/>
<rect x="185" y="584" width="1" height="6" fill="#5fa57d"/>
<rect x="190" y="574" width="1" height="9" fill="#000"/>
<rect x="189" y="575" width="3" height="8" fill="#1b5235"/>
<rect x="190" y="576" width="1" height="6" fill="#5fa57d"/>
<rect x="195" y="557" width="1" height="19" fill="#000"/>
<rect x="194" y="557" width="3" height="19" fill="#1b5235"/>
<rect x="195" y="558" width="1" height="17" fill="#5fa57d"/>
<rect x="200" y="555" width="1" height="41" fill="#000"/>
<rect x="199" y="558" width="3" height="36" fill="#5e1810"/>
<rect x="200" y="559" width="1" height="34" fill="#d8533d"/>
<rect x="205" y="586" width="1" height="15" fill="#000"/>
<rect x="204" y="590" width="3" height="4" fill="#1b5235"/>
<rect x="205" y="591" width="1" height="2" fill="#5fa57d"/>
<rect x="209" y="580" width="1" height="11" fill="#000"/>
<rect x="208" y="588" width="3" height="3" fill="#1b5235"/>
<rect x="209" y="589" width="1" height="1" fill="#5fa57d"/>
<rect x="214" y="583" width="1" height="11" fill="#000"/>
<rect x="213" y="588" width="3" height="1" fill="#1b5235"/>
<rect x="219" y="577" width="1" height="12" fill="#000"/>
<rect x="218" y="583" width="3" height="6" fill="#1b5235"/>
<rect x="219" y="584" width="1" height="4" fill="#5fa57d"/>
<rect x="224" y="580" width="1" height="14" fill="#000"/>
<rect x="223" y="581" width="3" height="6" fill="#5e1810"/>
<rect x="224" y="582" width="1" height="4" fill="#d8533d"/>
<rect x="229" y="581" width="1" height="8" fill="#000"/>
<rect x="228" y="585" width="3" height="3" fill="#1b5235"/>
<rect x="229" y="586" width="1" height="1" fill="#5fa57d"/>
<rect x="234" y="580" width="1" height="10" fill="#000"/>
<rect x="233" y="583" width="3" height="4" fill="#1b5235"/>
<rect x="234" y="584" width="1" height="2" fill="#5fa57d"/>
<rect x="239" y="581" width="1" height="12" fill="#000"/>
<rect x="238" y="583" width="3" height="7" fill="#5e1810"/>
<rect x="239" y="584" width="1" height="5" fill="#d8533d"/>
<rect x="244" y="585" width="1" height="12" fill="#000"/>
<rect x="243" y="589" width="3" height="1" fill="#1b5235"/>
<rect x="248" y="573" width="1" height="18" fill="#000"/>
<rect x="247" y="579" width="3" height="7" fill="#1b5235"/>
<rect x="248" y="580" width="1" height="5" fill="#5fa57d"/>
<rect x="253" y="565" width="1" height="15" fill="#000"/>
<rect x="252" y="566" width="3" height="14" fill="#1b5235"/>
<rect x="253" y="567" width="1" height="12" fill="#5fa57d"/>
<rect x="258" y="555" width="1" height="18" fill="#000"/>
<rect x="257" y="557" width="3" height="10" fill="#1b5235"/>
<rect x="258" y="558" width="1" height="8" fill="#5fa57d"/>
<rect x="263" y="553" width="1" height="20" fill="#000"/>
<rect x="262" y="557" width="3" height="15" fill="#5e1810"/>
<rect x="263" y="558" width="1" height="13" fill="#d8533d"/>
<rect x="268" y="566" width="1" height="19" fill="#000"/>
<rect x="267" y="571" width="3" height="13" fill="#5e1810"/>
<rect x="268" y="572" width="1" height="11" fill="#d8533d"/>
<rect x="273" y="577" width="1" height="8" fill="#000"/>
<rect x="272" y="582" width="3" height="2" fill="#1b5235"/>
<rect x="278" y="579" width="1" height="11" fill="#000"/>
<rect x="277" y="583" width="3" height="1" fill="#5e1810"/>
<rect x="282" y="582" width="1" height="27" fill="#000"/>
<rect x="281" y="585" width="3" height="24" fill="#5e1810"/>
<rect x="282" y="586" width="1" height="22" fill="#d8533d"/>
<rect x="287" y="592" width="1" height="18" fill="#000"/>
<rect x="286" y="605" width="3" height="5" fill="#1b5235"/>
<rect x="287" y="606" width="1" height="3" fill="#5fa57d"/>
<rect x="292" y="590" width="1" height="17" fill="#000"/>
<rect x="291" y="594" width="3" height="12" fill="#1b5235"/>
<rect x="292" y="595" width="1" height="10" fill="#5fa57d"/>
<rect x="297" y="589" width="1" height="9" fill="#000"/>
<rect x="296" y="593" width="3" height="5" fill="#5e1810"/>
<rect x="297" y="594" width="1" height="3" fill="#d8533d"/>
<rect x="302" y="594" width="1" height="4" fill="#000"/>
<rect x="301" y="597" width="3" height="1" fill="#1b5235"/>
<rect x="307" y="587" width="1" height="9" fill="#000"/>
<rect x="306" y="589" width="3" height="6" fill="#1b5235"/>
<rect x="307" y="590" width="1" height="4" fill="#5fa57d"/>
<rect x="312" y="588" width="1" height="10" fill="#000"/>
<rect x="311" y="591" width="3" height="4" fill="#5e1810"/>
<rect x="312" y="592" width="1" height="2" fill="#d8533d"/>
<rect x="316" y="592" width="1" height="11" fill="#000"/>
<rect x="315" y="595" width="3" height="6" fill="#5e1810"/>
<rect x="316" y="596" width="1" height="4" fill="#d8533d"/>
<rect x="321" y="592" width="1" height="10" fill="#000"/>
<rect x="320" y="593" width="3" height="8" fill="#1b5235"/>
<rect x="321" y="594" width="1" height="6" fill="#5fa57d"/>
<rect x="326" y="579" width="1" height="16" fill="#000"/>
<rect x="325" y="580" width="3" height="15" fill="#1b5235"/>
<rect x="326" y="581" width="1" height="13" fill="#5fa57d"/>
<rect x="331" y="577" width="1" height="10" fill="#000"/>
<rect x="330" y="580" width="3" height="7" fill="#5e1810"/>
<rect x="331" y="581" width="1" height="5" fill="#d8533d"/>
<rect x="336" y="583" width="1" height="14" fill="#000"/>
<rect x="335" y="588" width="3" height="1" fill="#5e1810"/>
<rect x="341" y="577" width="1" height="13" fill="#000"/>
<rect x="340" y="583" width="3" height="6" fill="#1b5235"/>
<rect x="341" y="584" width="1" height="4" fill="#5fa57d"/>
<rect x="346" y="575" width="1" height="10" fill="#000"/>
<rect x="345" y="578" width="3" height="6" fill="#1b5235"/>
<rect x="346" y="579" width="1" height="4" fill="#5fa57d"/>
<rect x="350" y="572" width="1" height="8" fill="#000"/>
<rect x="349" y="575" width="3" height="5" fill="#1b5235"/>
<rect x="350" y="576" width="1" height="3" fill="#5fa57d"/>
<rect x="355" y="564" width="1" height="13" fill="#000"/>
<rect x="354" y="568" width="3" height="9" fill="#1b5235"/>
<rect x="355" y="569" width="1" height="7" fill="#5fa57d"/>
<rect x="360" y="566" width="1" height="14" fill="#000"/>
<rect x="359" y="568" width="3" height="11" fill="#5e1810"/>
<rect x="360" y="569" width="1" height="9" fill="#d8533d"/>
<rect x="365" y="572" width="1" height="8" fill="#000"/>
<rect x="364" y="572" width="3" height="8" fill="#1b5235"/>
<rect x="365" y="573" width="1" height="6" fill="#5fa57d"/>
<rect x="370" y="564" width="1" height="10" fill="#000"/>
<rect x="369" y="565" width="3" height="9" fill="#1b5235"/>
<rect x="370" y="566" width="1" height="7" fill="#5fa57d"/>
<rect x="375" y="554" width="1" height="14" fill="#000"/>
<rect x="374" y="558" width="3" height="10" fill="#1b5235"/>
<rect x="375" y="559" width="1" height="8" fill="#5fa57d"/>
<rect x="380" y="557" width="1" height="7" fill="#000"/>
<rect x="379" y="559" width="3" height="5" fill="#5e1810"/>
<rect x="380" y="560" width="1" height="3" fill="#d8533d"/>
<rect x="384" y="559" width="1" height="9" fill="#000"/>
<rect x="383" y="561" width="3" height="3" fill="#1b5235"/>
<rect x="384" y="562" width="1" height="1" fill="#5fa57d"/>
<rect x="389" y="546" width="1" height="17" fill="#000"/>
<rect x="388" y="547" width="3" height="16" fill="#1b5235"/>
<rect x="389" y="548" width="1" height="14" fill="#5fa57d"/>
<rect x="394" y="539" width="1" height="9" fill="#000"/>
<rect x="393" y="542" width="3" height="6" fill="#1b5235"/>
<rect x="394" y="543" width="1" height="4" fill="#5fa57d"/>
<rect x="399" y="541" width="1" height="9" fill="#000"/>
<rect x="398" y="543" width="3" height="1" fill="#1b5235"/>
<rect x="404" y="531" width="1" height="13" fill="#000"/>
<rect x="403" y="537" width="3" height="7" fill="#1b5235"/>
<rect x="404" y="538" width="1" height="5" fill="#5fa57d"/>
<rect x="409" y="536" width="1" height="16" fill="#000"/>
<rect x="408" y="537" width="3" height="12" fill="#5e1810"/>
<rect x="409" y="538" width="1" height="10" fill="#d8533d"/>
<rect x="414" y="539" width="1" height="12" fill="#000"/>
<rect x="413" y="540" width="3" height="11" fill="#1b5235"/>
<rect x="414" y="541" width="1" height="9" fill="#5fa57d"/>
<rect x="418" y="538" width="1" height="8" fill="#000"/>
<rect x="417" y="540" width="3" height="1" fill="#5e1810"/>
<rect x="423" y="526" width="1" height="17" fill="#000"/>
<rect x="422" y="528" width="3" height="15" fill="#1b5235"/>
<rect x="423" y="529" width="1" height="13" fill="#5fa57d"/>
<rect x="428" y="519" width="1" height="10" fill="#000"/>
<rect x="427" y="527" width="3" height="2" fill="#1b5235"/>
<rect x="433" y="514" width="1" height="22" fill="#000"/>
<rect x="432" y="521" width="3" height="5" fill="#1b5235"/>
<rect x="433" y="522" width="1" height="3" fill="#5fa57d"/>
<rect x="438" y="509" width="1" height="13" fill="#000"/>
<rect x="437" y="510" width="3" height="12" fill="#1b5235"/>
<rect x="438" y="511" width="1" height="10" fill="#5fa57d"/>
<rect x="443" y="496" width="1" height="15" fill="#000"/>
<rect x="442" y="501" width="3" height="10" fill="#1b5235"/>
<rect x="443" y="502" width="1" height="8" fill="#5fa57d"/>
<rect x="448" y="499" width="1" height="14" fill="#000"/>
<rect x="447" y="504" width="3" height="1" fill="#5e1810"/>
<rect x="452" y="494" width="1" height="13" fill="#000"/>
<rect x="451" y="504" width="3" height="3" fill="#1b5235"/>
<rect x="452" y="505" width="1" height="1" fill="#5fa57d"/>
<rect x="457" y="485" width="1" height="21" fill="#000"/>
<rect x="456" y="487" width="3" height="19" fill="#1b5235"/>
<rect x="457" y="488" width="1" height="17" fill="#5fa57d"/>
<rect x="462" y="474" width="1" height="22" fill="#000"/>
<rect x="461" y="487" width="3" height="4" fill="#5e1810"/>
<rect x="462" y="488" width="1" height="2" fill="#d8533d"/>
<rect x="467" y="486" width="1" height="16" fill="#000"/>
<rect x="466" y="488" width="3" height="4" fill="#1b5235"/>
<rect x="467" y="489" width="1" height="2" fill="#5fa57d"/>
<rect x="472" y="479" width="1" height="10" fill="#000"/>
<rect x="471" y="479" width="3" height="10" fill="#1b5235"/>
<rect x="472" y="480" width="1" height="8" fill="#5fa57d"/>
<rect x="477" y="475" width="1" height="23" fill="#000"/>
<rect x="476" y="479" width="3" height="18" fill="#5e1810"/>
<rect x="477" y="480" width="1" height="16" fill="#d8533d"/>
<rect x="482" y="487" width="1" height="9" fill="#000"/>
<rect x="481" y="491" width="3" height="5" fill="#1b5235"/>
<rect x="482" y="492" width="1" height="3" fill="#5fa57d"/>
<rect x="487" y="476" width="1" height="16" fill="#000"/>
<rect x="486" y="477" width="3" height="15" fill="#1b5235"/>
<rect x="487" y="478" width="1" height="13" fill="#5fa57d"/>
<rect x="491" y="473" width="1" height="10" fill="#000"/>
<rect x="490" y="477" width="3" height="1" fill="#5e1810"/>
<rect x="496" y="470" width="1" height="11" fill="#000"/>
<rect x="495" y="475" width="3" height="4" fill="#1b5235"/>
<rect x="496" y="476" width="1" height="2" fill="#5fa57d"/>
<rect x="501" y="472" width="1" height="11" fill="#000"/>
<rect x="500" y="477" width="3" height="1" fill="#1b5235"/>
<rect x="506" y="469" width="1" height="13" fill="#000"/>
<rect x="505" y="471" width="3" height="7" fill="#1b5235"/>
<rect x="506" y="472" width="1" height="5" fill="#5fa57d"/>
<rect x="511" y="470" width="1" height="24" fill="#000"/>
<rect x="510" y="471" width="3" height="13" fill="#5e1810"/>
<rect x="511" y="472" width="1" height="11" fill="#d8533d"/>
<rect x="516" y="479" width="1" height="14" fill="#000"/>
<rect x="515" y="484" width="3" height="1" fill="#1b5235"/>
<rect x="521" y="482" width="1" height="19" fill="#000"/>
<rect x="520" y="484" width="3" height="15" fill="#5e1810"/>
<rect x="521" y="485" width="1" height="13" fill="#d8533d"/>
<rect x="525" y="495" width="1" height="19" fill="#000"/>
<rect x="524" y="498" width="3" height="8" fill="#5e1810"/>
<rect x="525" y="499" width="1" height="6" fill="#d8533d"/>
<rect x="530" y="491" width="1" height="15" fill="#000"/>
<rect x="529" y="492" width="3" height="14" fill="#1b5235"/>
<rect x="530" y="493" width="1" height="12" fill="#5fa57d"/>
<rect x="535" y="479" width="1" height="17" fill="#000"/>
<rect x="534" y="483" width="3" height="11" fill="#1b5235"/>
<rect x="535" y="484" width="1" height="9" fill="#5fa57d"/>
<rect x="540" y="479" width="1" height="12" fill="#000"/>
<rect x="539" y="483" width="3" height="2" fill="#1b5235"/>
<rect x="545" y="480" width="1" height="13" fill="#000"/>
<rect x="544" y="483" width="3" height="2" fill="#5e1810"/>
<rect x="550" y="479" width="1" height="11" fill="#000"/>
<rect x="549" y="485" width="3" height="1" fill="#5e1810"/>
<rect x="555" y="483" width="1" height="13" fill="#000"/>
<rect x="554" y="485" width="3" height="9" fill="#5e1810"/>
<rect x="555" y="486" width="1" height="7" fill="#d8533d"/>
<rect x="559" y="481" width="1" height="14" fill="#000"/>
<rect x="558" y="484" width="3" height="11" fill="#1b5235"/>
<rect x="559" y="485" width="1" height="9" fill="#5fa57d"/>
<rect x="564" y="475" width="1" height="12" fill="#000"/>
<rect x="563" y="478" width="3" height="6" fill="#1b5235"/>
<rect x="564" y="479" width="1" height="4" fill="#5fa57d"/>
<rect x="569" y="458" width="1" height="19" fill="#000"/>
<rect x="568" y="458" width="3" height="19" fill="#1b5235"/>
<rect x="569" y="459" width="1" height="17" fill="#5fa57d"/>
<rect x="574" y="452" width="1" height="10" fill="#000"/>
<rect x="573" y="459" width="3" height="2" fill="#5e1810"/>
<rect x="579" y="454" width="1" height="6" fill="#000"/>
<rect x="578" y="455" width="3" height="4" fill="#1b5235"/>
<rect x="579" y="456" width="1" height="2" fill="#5fa57d"/>
<rect x="584" y="441" width="1" height="14" fill="#000"/>
<rect x="583" y="442" width="3" height="13" fill="#1b5235"/>
<rect x="584" y="443" width="1" height="11" fill="#5fa57d"/>
<rect x="589" y="436" width="1" height="10" fill="#000"/>
<rect x="588" y="438" width="3" height="5" fill="#1b5235"/>
<rect x="589" y="439" width="1" height="3" fill="#5fa57d"/>
<rect x="593" y="434" width="1" height="11" fill="#000"/>
<rect x="592" y="437" width="3" height="3" fill="#5e1810"/>
<rect x="593" y="438" width="1" height="1" fill="#d8533d"/>
<rect x="598" y="438" width="1" height="16" fill="#000"/>
<rect x="597" y="438" width="3" height="8" fill="#5e1810"/>
<rect x="598" y="439" width="1" height="6" fill="#d8533d"/>
<rect x="603" y="443" width="1" height="10" fill="#000"/>
<rect x="602" y="445" width="3" height="6" fill="#5e1810"/>
<rect x="603" y="446" width="1" height="4" fill="#d8533d"/>
<rect x="608" y="442" width="1" height="10" fill="#000"/>
<rect x="607" y="448" width="3" height="3" fill="#1b5235"/>
<rect x="608" y="449" width="1" height="1" fill="#5fa57d"/>
<rect x="613" y="443" width="1" height="7" fill="#000"/>
<rect x="612" y="448" width="3" height="1" fill="#5e1810"/>
<rect x="618" y="434" width="1" height="15" fill="#000"/>
<rect x="617" y="435" width="3" height="14" fill="#1b5235"/>
<rect x="618" y="436" width="1" height="12" fill="#5fa57d"/>
<rect x="623" y="425" width="1" height="11" fill="#000"/>
<rect x="622" y="425" width="3" height="11" fill="#1b5235"/>
<rect x="623" y="426" width="1" height="9" fill="#5fa57d"/>
<rect x="627" y="411" width="1" height="17" fill="#000"/>
<rect x="626" y="412" width="3" height="16" fill="#1b5235"/>
<rect x="627" y="413" width="1" height="14" fill="#5fa57d"/>
<rect x="632" y="404" width="1" height="16" fill="#000"/>
<rect x="631" y="413" width="3" height="3" fill="#5e1810"/>
<rect x="632" y="414" width="1" height="1" fill="#d8533d"/>
<rect x="637" y="406" width="1" height="12" fill="#000"/>
<rect x="636" y="410" width="3" height="7" fill="#1b5235"/>
<rect x="637" y="411" width="1" height="5" fill="#5fa57d"/>
<rect x="642" y="398" width="1" height="38" fill="#000"/>
<rect x="641" y="407" width="3" height="9" fill="#5e1810"/>
<rect x="642" y="408" width="1" height="7" fill="#d8533d"/>
<rect x="647" y="408" width="1" height="41" fill="#000"/>
<rect x="646" y="415" width="3" height="27" fill="#5e1810"/>
<rect x="647" y="416" width="1" height="25" fill="#d8533d"/>
<rect x="652" y="435" width="1" height="34" fill="#000"/>
<rect x="651" y="452" width="3" height="10" fill="#5e1810"/>
<rect x="652" y="453" width="1" height="8" fill="#d8533d"/>
<rect x="657" y="446" width="1" height="17" fill="#000"/>
<rect x="656" y="460" width="3" height="1" fill="#1b5235"/>
<rect x="661" y="420" width="1" height="45" fill="#000"/>
<rect x="660" y="426" width="3" height="35" fill="#1b5235"/>
<rect x="661" y="427" width="1" height="33" fill="#5fa57d"/>
<rect x="666" y="395" width="1" height="35" fill="#000"/>
<rect x="665" y="395" width="3" height="32" fill="#1b5235"/>
<rect x="666" y="396" width="1" height="30" fill="#5fa57d"/>
<rect x="671" y="373" width="1" height="24" fill="#000"/>
<rect x="670" y="375" width="3" height="22" fill="#1b5235"/>
<rect x="671" y="376" width="1" height="20" fill="#5fa57d"/>
<rect x="676" y="373" width="1" height="16" fill="#000"/>
<rect x="675" y="378" width="3" height="6" fill="#5e1810"/>
<rect x="676" y="379" width="1" height="4" fill="#d8533d"/>
<rect x="681" y="376" width="1" height="10" fill="#000"/>
<rect x="680" y="378" width="3" height="8" fill="#1b5235"/>
<rect x="681" y="379" width="1" height="6" fill="#5fa57d"/>
<rect x="686" y="342" width="1" height="36" fill="#000"/>
<rect x="685" y="342" width="3" height="36" fill="#1b5235"/>
<rect x="686" y="343" width="1" height="34" fill="#5fa57d"/>
<rect x="691" y="337" width="1" height="23" fill="#000"/>
<rect x="690" y="343" width="3" height="5" fill="#5e1810"/>
<rect x="691" y="344" width="1" height="3" fill="#d8533d"/>
<rect x="695" y="315" width="1" height="32" fill="#000"/>
<rect x="694" y="317" width="3" height="30" fill="#1b5235"/>
<rect x="695" y="318" width="1" height="28" fill="#5fa57d"/>
<rect x="700" y="293" width="1" height="42" fill="#000"/>
<rect x="699" y="318" width="3" height="13" fill="#5e1810"/>
<rect x="700" y="319" width="1" height="11" fill="#d8533d"/>
<rect x="705" y="328" width="1" height="40" fill="#000"/>
<rect x="704" y="338" width="3" height="22" fill="#5e1810"/>
<rect x="705" y="339" width="1" height="20" fill="#d8533d"/>
<rect x="710" y="334" width="1" height="26" fill="#000"/>
<rect x="709" y="340" width="3" height="20" fill="#1b5235"/>
<rect x="710" y="341" width="1" height="18" fill="#5fa57d"/>
<rect x="715" y="333" width="1" height="33" fill="#000"/>
<rect x="714" y="341" width="3" height="8" fill="#5e1810"/>
<rect x="715" y="342" width="1" height="6" fill="#d8533d"/>
<rect x="720" y="339" width="1" height="26" fill="#000"/>
<rect x="719" y="342" width="3" height="7" fill="#1b5235"/>
<rect x="720" y="343" width="1" height="5" fill="#5fa57d"/>
<rect x="725" y="340" width="1" height="15" fill="#000"/>
<rect x="724" y="342" width="3" height="9" fill="#5e1810"/>
<rect x="725" y="343" width="1" height="7" fill="#d8533d"/>
<rect x="730" y="347" width="1" height="19" fill="#000"/>
<rect x="729" y="351" width="3" height="9" fill="#5e1810"/>
<rect x="730" y="352" width="1" height="7" fill="#d8533d"/>
<rect x="734" y="358" width="1" height="29" fill="#000"/>
<rect x="733" y="359" width="3" height="17" fill="#5e1810"/>
<rect x="734" y="360" width="1" height="15" fill="#d8533d"/>
<rect x="739" y="365" width="1" height="15" fill="#000"/>
<rect x="738" y="374" width="3" height="1" fill="#1b5235"/>
<rect x="744" y="344" width="1" height="32" fill="#000"/>
<rect x="743" y="345" width="3" height="31" fill="#1b5235"/>
<rect x="744" y="346" width="1" height="29" fill="#5fa57d"/>
<rect x="749" y="314" width="1" height="34" fill="#000"/>
<rect x="748" y="315" width="3" height="31" fill="#1b5235"/>
<rect x="749" y="316" width="1" height="29" fill="#5fa57d"/>
<rect x="754" y="313" width="1" height="24" fill="#000"/>
<rect x="753" y="313" width="3" height="23" fill="#5e1810"/>
<rect x="754" y="314" width="1" height="21" fill="#d8533d"/>
<rect x="759" y="320" width="1" height="39" fill="#000"/>
<rect x="758" y="335" width="3" height="20" fill="#5e1810"/>
<rect x="759" y="336" width="1" height="18" fill="#d8533d"/>
<rect x="764" y="340" width="1" height="23" fill="#000"/>
<rect x="763" y="347" width="3" height="8" fill="#1b5235"/>
<rect x="764" y="348" width="1" height="6" fill="#5fa57d"/>
<rect x="768" y="358" width="1" height="27" fill="#000"/>
<rect x="767" y="360" width="3" height="17" fill="#5e1810"/>
<rect x="768" y="361" width="1" height="15" fill="#d8533d"/>
<rect x="773" y="366" width="1" height="16" fill="#000"/>
<rect x="772" y="371" width="3" height="6" fill="#1b5235"/>
<rect x="773" y="372" width="1" height="4" fill="#5fa57d"/>
<rect x="778" y="369" width="1" height="29" fill="#000"/>
<rect x="777" y="372" width="3" height="24" fill="#5e1810"/>
<rect x="778" y="373" width="1" height="22" fill="#d8533d"/>
<rect x="783" y="374" width="1" height="39" fill="#000"/>
<rect x="782" y="375" width="3" height="21" fill="#1b5235"/>
<rect x="783" y="376" width="1" height="19" fill="#5fa57d"/>
<rect x="788" y="370" width="1" height="32" fill="#000"/>
<rect x="787" y="375" width="3" height="13" fill="#5e1810"/>
<rect x="788" y="376" width="1" height="11" fill="#d8533d"/>
<rect x="793" y="371" width="1" height="14" fill="#000"/>
<rect x="792" y="378" width="3" height="7" fill="#1b5235"/>
<rect x="793" y="379" width="1" height="5" fill="#5fa57d"/>
<rect x="798" y="357" width="1" height="29" fill="#000"/>
<rect x="797" y="359" width="3" height="19" fill="#1b5235"/>
<rect x="798" y="360" width="1" height="17" fill="#5fa57d"/>
<rect x="802" y="348" width="1" height="12" fill="#000"/>
<rect x="801" y="351" width="3" height="8" fill="#1b5235"/>
<rect x="802" y="352" width="1" height="6" fill="#5fa57d"/>
<rect x="807" y="341" width="1" height="21" fill="#000"/>
<rect x="806" y="350" width="3" height="8" fill="#5e1810"/>
<rect x="807" y="351" width="1" height="6" fill="#d8533d"/>
<rect x="812" y="335" width="1" height="24" fill="#000"/>
<rect x="811" y="338" width="3" height="20" fill="#1b5235"/>
<rect x="812" y="339" width="1" height="18" fill="#5fa57d"/>
<rect x="817" y="338" width="1" height="10" fill="#000"/>
<rect x="816" y="339" width="3" height="4" fill="#5e1810"/>
<rect x="817" y="340" width="1" height="2" fill="#d8533d"/>
<rect x="822" y="340" width="1" height="20" fill="#000"/>
<rect x="821" y="342" width="3" height="14" fill="#5e1810"/>
<rect x="822" y="343" width="1" height="12" fill="#d8533d"/>
<rect x="827" y="347" width="1" height="16" fill="#000"/>
<rect x="826" y="355" width="3" height="6" fill="#5e1810"/>
<rect x="827" y="356" width="1" height="4" fill="#d8533d"/>
<rect x="832" y="346" width="1" height="27" fill="#000"/>
<rect x="831" y="350" width="3" height="11" fill="#1b5235"/>
<rect x="832" y="351" width="1" height="9" fill="#5fa57d"/>
<rect x="836" y="348" width="1" height="16" fill="#000"/>
<rect x="835" y="350" width="3" height="9" fill="#5e1810"/>
<rect x="836" y="351" width="1" height="7" fill="#d8533d"/>
<rect x="841" y="330" width="1" height="27" fill="#000"/>
<rect x="840" y="330" width="3" height="27" fill="#1b5235"/>
<rect x="841" y="331" width="1" height="25" fill="#5fa57d"/>
<rect x="846" y="327" width="1" height="18" fill="#000"/>
<rect x="845" y="330" width="3" height="10" fill="#5e1810"/>
<rect x="846" y="331" width="1" height="8" fill="#d8533d"/>
<rect x="851" y="329" width="1" height="13" fill="#000"/>
<rect x="850" y="333" width="3" height="7" fill="#1b5235"/>
<rect x="851" y="334" width="1" height="5" fill="#5fa57d"/>
<rect x="856" y="323" width="1" height="20" fill="#000"/>
<rect x="855" y="332" width="3" height="8" fill="#5e1810"/>
<rect x="856" y="333" width="1" height="6" fill="#d8533d"/>
<rect x="861" y="332" width="1" height="21" fill="#000"/>
<rect x="860" y="339" width="3" height="14" fill="#5e1810"/>
<rect x="861" y="340" width="1" height="12" fill="#d8533d"/>
<rect x="866" y="343" width="1" height="14" fill="#000"/>
<rect x="865" y="347" width="3" height="6" fill="#1b5235"/>
<rect x="866" y="348" width="1" height="4" fill="#5fa57d"/>
<rect x="870" y="340" width="1" height="15" fill="#000"/>
<rect x="869" y="347" width="3" height="1" fill="#5e1810"/>
<rect x="875" y="336" width="1" height="14" fill="#000"/>
<rect x="874" y="338" width="3" height="11" fill="#1b5235"/>
<rect x="875" y="339" width="1" height="9" fill="#5fa57d"/>
<rect x="880" y="325" width="1" height="18" fill="#000"/>
<rect x="879" y="329" width="3" height="10" fill="#1b5235"/>
<rect x="880" y="330" width="1" height="8" fill="#5fa57d"/>
<rect x="885" y="310" width="1" height="21" fill="#000"/>
<rect x="884" y="314" width="3" height="16" fill="#1b5235"/>
<rect x="885" y="315" width="1" height="14" fill="#5fa57d"/>
<rect x="890" y="309" width="1" height="21" fill="#000"/>
<rect x="889" y="315" width="3" height="14" fill="#5e1810"/>
<rect x="890" y="316" width="1" height="12" fill="#d8533d"/>
<rect x="895" y="323" width="1" height="12" fill="#000"/>
<rect x="894" y="328" width="3" height="1" fill="#1b5235"/>
<rect x="900" y="324" width="1" height="12" fill="#000"/>
<rect x="899" y="328" width="3" height="7" fill="#5e1810"/>
<rect x="900" y="329" width="1" height="5" fill="#d8533d"/>
<rect x="904" y="328" width="1" height="12" fill="#000"/>
<rect x="903" y="333" width="3" height="1" fill="#1b5235"/>
<rect x="909" y="332" width="1" height="11" fill="#000"/>
<rect x="908" y="334" width="3" height="1" fill="#5e1810"/>
<rect x="914" y="325" width="1" height="16" fill="#000"/>
<rect x="913" y="334" width="3" height="1" fill="#1b5235"/>
<rect x="919" y="334" width="1" height="23" fill="#000"/>
<rect x="918" y="334" width="3" height="14" fill="#5e1810"/>
<rect x="919" y="335" width="1" height="12" fill="#d8533d"/>
<rect x="924" y="344" width="1" height="8" fill="#000"/>
<rect x="923" y="345" width="3" height="3" fill="#1b5235"/>
<rect x="924" y="346" width="1" height="1" fill="#5fa57d"/>
<rect x="929" y="340" width="1" height="12" fill="#000"/>
<rect x="928" y="345" width="3" height="3" fill="#5e1810"/>
<rect x="929" y="346" width="1" height="1" fill="#d8533d"/>
<rect x="934" y="347" width="1" height="22" fill="#000"/>
<rect x="933" y="347" width="3" height="18" fill="#5e1810"/>
<rect x="934" y="348" width="1" height="16" fill="#d8533d"/>
<rect x="938" y="352" width="1" height="20" fill="#000"/>
<rect x="937" y="355" width="3" height="10" fill="#1b5235"/>
<rect x="938" y="356" width="1" height="8" fill="#5fa57d"/>
<rect x="943" y="337" width="1" height="19" fill="#000"/>
<rect x="942" y="344" width="3" height="12" fill="#1b5235"/>
<rect x="943" y="345" width="1" height="10" fill="#5fa57d"/>
<rect x="948" y="337" width="1" height="10" fill="#000"/>
<rect x="947" y="339" width="3" height="5" fill="#1b5235"/>
<rect x="948" y="340" width="1" height="3" fill="#5fa57d"/>
<rect x="953" y="335" width="1" height="17" fill="#000"/>
<rect x="952" y="337" width="3" height="10" fill="#5e1810"/>
<rect x="953" y="338" width="1" height="8" fill="#d8533d"/>
<rect x="958" y="341" width="1" height="7" fill="#000"/>
<rect x="957" y="344" width="3" height="4" fill="#1b5235"/>
<rect x="958" y="345" width="1" height="2" fill="#5fa57d"/>
<rect x="963" y="342" width="1" height="14" fill="#000"/>
<rect x="962" y="344" width="3" height="1" fill="#1b5235"/>
<rect x="968" y="341" width="1" height="18" fill="#000"/>
<rect x="967" y="344" width="3" height="12" fill="#5e1810"/>
<rect x="968" y="345" width="1" height="10" fill="#d8533d"/>
<rect x="973" y="350" width="1" height="11" fill="#000"/>
<rect x="972" y="351" width="3" height="5" fill="#1b5235"/>
<rect x="973" y="352" width="1" height="3" fill="#5fa57d"/>
<rect x="977" y="346" width="1" height="6" fill="#000"/>
<rect x="976" y="348" width="3" height="4" fill="#1b5235"/>
<rect x="977" y="349" width="1" height="2" fill="#5fa57d"/>
<rect x="982" y="334" width="1" height="15" fill="#000"/>
<rect x="981" y="338" width="3" height="11" fill="#1b5235"/>
<rect x="982" y="339" width="1" height="9" fill="#5fa57d"/>
<rect x="987" y="332" width="1" height="11" fill="#000"/>
<rect x="986" y="338" width="3" height="5" fill="#5e1810"/>
<rect x="987" y="339" width="1" height="3" fill="#d8533d"/>
<rect x="992" y="335" width="1" height="14" fill="#000"/>
<rect x="991" y="342" width="3" height="7" fill="#5e1810"/>
<rect x="992" y="343" width="1" height="5" fill="#d8533d"/>
<rect x="997" y="331" width="1" height="18" fill="#000"/>
<rect x="996" y="341" width="3" height="8" fill="#1b5235"/>
<rect x="997" y="342" width="1" height="6" fill="#5fa57d"/>
<rect x="1002" y="339" width="1" height="13" fill="#000"/>
<rect x="1001" y="341" width="3" height="2" fill="#5e1810"/>
<rect x="1007" y="336" width="1" height="9" fill="#000"/>
<rect x="1006" y="340" width="3" height="4" fill="#1b5235"/>
<rect x="1007" y="341" width="1" height="2" fill="#5fa57d"/>
<rect x="1011" y="324" width="1" height="17" fill="#000"/>
<rect x="1010" y="325" width="3" height="16" fill="#1b5235"/>
<rect x="1011" y="326" width="1" height="14" fill="#5fa57d"/>
<rect x="1016" y="314" width="1" height="15" fill="#000"/>
<rect x="1015" y="315" width="3" height="11" fill="#1b5235"/>
<rect x="1016" y="316" width="1" height="9" fill="#5fa57d"/>
<rect x="1021" y="313" width="1" height="17" fill="#000"/>
<rect x="1020" y="315" width="3" height="14" fill="#5e1810"/>
<rect x="1021" y="316" width="1" height="12" fill="#d8533d"/>
<rect x="1026" y="326" width="1" height="13" fill="#000"/>
<rect x="1025" y="328" width="3" height="7" fill="#5e1810"/>
<rect x="1026" y="329" width="1" height="5" fill="#d8533d"/>
<rect x="1031" y="332" width="1" height="16" fill="#000"/>
<rect x="1030" y="334" width="3" height="11" fill="#5e1810"/>
<rect x="1031" y="335" width="1" height="9" fill="#d8533d"/>
<rect x="1036" y="341" width="1" height="14" fill="#000"/>
<rect x="1035" y="349" width="3" height="3" fill="#5e1810"/>
<rect x="1036" y="350" width="1" height="1" fill="#d8533d"/>
<rect x="1041" y="345" width="1" height="8" fill="#000"/>
<rect x="1040" y="347" width="3" height="5" fill="#1b5235"/>
<rect x="1041" y="348" width="1" height="3" fill="#5fa57d"/>
<rect x="1045" y="345" width="1" height="20" fill="#000"/>
<rect x="1044" y="347" width="3" height="17" fill="#5e1810"/>
<rect x="1045" y="348" width="1" height="15" fill="#d8533d"/>
<rect x="1050" y="351" width="1" height="13" fill="#000"/>
<rect x="1049" y="359" width="3" height="5" fill="#1b5235"/>
<rect x="1050" y="360" width="1" height="3" fill="#5fa57d"/>
<rect x="1055" y="336" width="1" height="25" fill="#000"/>
<rect x="1054" y="336" width="3" height="24" fill="#1b5235"/>
<rect x="1055" y="337" width="1" height="22" fill="#5fa57d"/>
<rect x="1060" y="329" width="1" height="12" fill="#000"/>
<rect x="1059" y="332" width="3" height="5" fill="#1b5235"/>
<rect x="1060" y="333" width="1" height="3" fill="#5fa57d"/>
<rect x="1065" y="327" width="1" height="13" fill="#000"/>
<rect x="1064" y="330" width="3" height="2" fill="#1b5235"/>
<rect x="1070" y="329" width="1" height="8" fill="#000"/>
<rect x="1069" y="330" width="3" height="5" fill="#5e1810"/>
<rect x="1070" y="331" width="1" height="3" fill="#d8533d"/>
<rect x="1075" y="324" width="1" height="11" fill="#000"/>
<rect x="1074" y="325" width="3" height="10" fill="#1b5235"/>
<rect x="1075" y="326" width="1" height="8" fill="#5fa57d"/>
<rect x="1079" y="322" width="1" height="10" fill="#000"/>
<rect x="1078" y="324" width="3" height="1" fill="#5e1810"/>
<rect x="1084" y="323" width="1" height="20" fill="#000"/>
<rect x="1083" y="325" width="3" height="18" fill="#5e1810"/>
<rect x="1084" y="326" width="1" height="16" fill="#d8533d"/>
<rect x="1089" y="337" width="1" height="9" fill="#000"/>
<rect x="1088" y="340" width="3" height="3" fill="#1b5235"/>
<rect x="1089" y="341" width="1" height="1" fill="#5fa57d"/>
<rect x="1094" y="333" width="1" height="9" fill="#000"/>
<rect x="1093" y="338" width="3" height="3" fill="#1b5235"/>
<rect x="1094" y="339" width="1" height="1" fill="#5fa57d"/>
<rect x="1099" y="332" width="1" height="14" fill="#000"/>
<rect x="1098" y="338" width="3" height="7" fill="#5e1810"/>
<rect x="1099" y="339" width="1" height="5" fill="#d8533d"/>
<rect x="1104" y="340" width="1" height="5" fill="#000"/>
<rect x="1103" y="344" width="3" height="1" fill="#5e1810"/>
<rect x="1109" y="337" width="1" height="11" fill="#000"/>
<rect x="1108" y="344" width="3" height="2" fill="#5e1810"/>
<rect x="1113" y="341" width="1" height="10" fill="#000"/>
<rect x="1112" y="345" width="3" height="5" fill="#5e1810"/>
<rect x="1113" y="346" width="1" height="3" fill="#d8533d"/>
<rect x="1118" y="340" width="1" height="12" fill="#000"/>
<rect x="1117" y="340" width="3" height="10" fill="#1b5235"/>
<rect x="1118" y="341" width="1" height="8" fill="#5fa57d"/>
<rect x="1123" y="339" width="1" height="8" fill="#000"/>
<rect x="1122" y="340" width="3" height="3" fill="#5e1810"/>
<rect x="1123" y="341" width="1" height="1" fill="#d8533d"/>
<rect x="1128" y="331" width="1" height="17" fill="#000"/>
<rect x="1127" y="333" width="3" height="11" fill="#1b5235"/>
<rect x="1128" y="334" width="1" height="9" fill="#5fa57d"/>
<rect x="1133" y="332" width="1" height="5" fill="#000"/>
<rect x="1132" y="333" width="3" height="3" fill="#5e1810"/>
<rect x="1133" y="334" width="1" height="1" fill="#d8533d"/>
<rect x="1138" y="326" width="1" height="13" fill="#000"/>
<rect x="1137" y="326" width="3" height="10" fill="#1b5235"/>
<rect x="1138" y="327" width="1" height="8" fill="#5fa57d"/>
<rect x="1143" y="325" width="1" height="7" fill="#000"/>
<rect x="1142" y="325" width="3" height="3" fill="#1b5235"/>
<rect x="1143" y="326" width="1" height="1" fill="#5fa57d"/>
<rect x="1147" y="317" width="1" height="12" fill="#000"/>
<rect x="1146" y="319" width="3" height="7" fill="#1b5235"/>
<rect x="1147" y="320" width="1" height="5" fill="#5fa57d"/>
<rect x="1152" y="308" width="1" height="15" fill="#000"/>
<rect x="1151" y="310" width="3" height="10" fill="#1b5235"/>
<rect x="1152" y="311" width="1" height="8" fill="#5fa57d"/>
<rect x="1157" y="297" width="1" height="16" fill="#000"/>
<rect x="1156" y="302" width="3" height="9" fill="#1b5235"/>
<rect x="1157" y="303" width="1" height="7" fill="#5fa57d"/>
<rect x="1162" y="282" width="1" height="21" fill="#000"/>
<rect x="1161" y="285" width="3" height="17" fill="#1b5235"/>
<rect x="1162" y="286" width="1" height="15" fill="#5fa57d"/>
<rect x="1167" y="271" width="1" height="16" fill="#000"/>
<rect x="1166" y="277" width="3" height="9" fill="#1b5235"/>
<rect x="1167" y="278" width="1" height="7" fill="#5fa57d"/>
<rect x="1172" y="275" width="1" height="16" fill="#000"/>
<rect x="1171" y="277" width="3" height="5" fill="#5e1810"/>
<rect x="1172" y="278" width="1" height="3" fill="#d8533d"/>
<rect x="1177" y="265" width="1" height="17" fill="#000"/>
<rect x="1176" y="269" width="3" height="13" fill="#1b5235"/>
<rect x="1177" y="270" width="1" height="11" fill="#5fa57d"/>
<rect x="1181" y="252" width="1" height="20" fill="#000"/>
<rect x="1180" y="255" width="3" height="17" fill="#1b5235"/>
<rect x="1181" y="256" width="1" height="15" fill="#5fa57d"/>
<rect x="1186" y="244" width="1" height="15" fill="#000"/>
<rect x="1185" y="255" width="3" height="4" fill="#5e1810"/>
<rect x="1186" y="256" width="1" height="2" fill="#d8533d"/>
<rect x="1191" y="249" width="1" height="11" fill="#000"/>
<rect x="1190" y="254" width="3" height="6" fill="#1b5235"/>
<rect x="1191" y="255" width="1" height="4" fill="#5fa57d"/>
<rect x="1196" y="251" width="1" height="10" fill="#000"/>
<rect x="1195" y="253" width="3" height="3" fill="#5e1810"/>
<rect x="1196" y="254" width="1" height="1" fill="#d8533d"/>
<rect x="1201" y="249" width="1" height="8" fill="#000"/>
<rect x="1200" y="253" width="3" height="4" fill="#1b5235"/>
<rect x="1201" y="254" width="1" height="2" fill="#5fa57d"/>
<rect x="1206" y="241" width="1" height="16" fill="#000"/>
<rect x="1205" y="243" width="3" height="11" fill="#1b5235"/>
<rect x="1206" y="244" width="1" height="9" fill="#5fa57d"/>
<rect x="1211" y="236" width="1" height="8" fill="#000"/>
<rect x="1210" y="240" width="3" height="3" fill="#1b5235"/>
<rect x="1211" y="241" width="1" height="1" fill="#5fa57d"/>
<rect x="1216" y="235" width="1" height="17" fill="#000"/>
<rect x="1215" y="240" width="3" height="8" fill="#5e1810"/>
<rect x="1216" y="241" width="1" height="6" fill="#d8533d"/>
<rect x="1220" y="244" width="1" height="13" fill="#000"/>
<rect x="1219" y="248" width="3" height="6" fill="#5e1810"/>
<rect x="1220" y="249" width="1" height="4" fill="#d8533d"/>
<rect x="1225" y="241" width="1" height="15" fill="#000"/>
<rect x="1224" y="241" width="3" height="13" fill="#1b5235"/>
<rect x="1225" y="242" width="1" height="11" fill="#5fa57d"/>
<rect x="1230" y="223" width="1" height="18" fill="#000"/>
<rect x="1229" y="224" width="3" height="17" fill="#1b5235"/>
<rect x="1230" y="225" width="1" height="15" fill="#5fa57d"/>
<rect x="1235" y="211" width="1" height="15" fill="#000"/>
<rect x="1234" y="219" width="3" height="6" fill="#1b5235"/>
<rect x="1235" y="220" width="1" height="4" fill="#5fa57d"/>
<rect x="1240" y="215" width="1" height="17" fill="#000"/>
<rect x="1239" y="219" width="3" height="9" fill="#5e1810"/>
<rect x="1240" y="220" width="1" height="7" fill="#d8533d"/>
<rect x="1245" y="220" width="1" height="10" fill="#000"/>
<rect x="1244" y="223" width="3" height="5" fill="#1b5235"/>
<rect x="1245" y="224" width="1" height="3" fill="#5fa57d"/>
<rect x="1250" y="213" width="1" height="14" fill="#000"/>
<rect x="1249" y="220" width="3" height="4" fill="#1b5235"/>
<rect x="1250" y="221" width="1" height="2" fill="#5fa57d"/>
<rect x="1254" y="200" width="1" height="22" fill="#000"/>
<rect x="1253" y="200" width="3" height="22" fill="#1b5235"/>
<rect x="1254" y="201" width="1" height="20" fill="#5fa57d"/>
<rect x="1259" y="190" width="1" height="21" fill="#000"/>
<rect x="1258" y="193" width="3" height="8" fill="#1b5235"/>
<rect x="1259" y="194" width="1" height="6" fill="#5fa57d"/>
<rect x="1264" y="183" width="1" height="11" fill="#000"/>
<rect x="1263" y="191" width="3" height="3" fill="#1b5235"/>
<rect x="1264" y="192" width="1" height="1" fill="#5fa57d"/>
<rect x="1269" y="183" width="1" height="21" fill="#000"/>
<rect x="1268" y="191" width="3" height="4" fill="#5e1810"/>
<rect x="1269" y="192" width="1" height="2" fill="#d8533d"/>
<rect x="1274" y="184" width="1" height="15" fill="#000"/>
<rect x="1273" y="186" width="3" height="9" fill="#1b5235"/>
<rect x="1274" y="187" width="1" height="7" fill="#5fa57d"/>
<rect x="1279" y="164" width="1" height="23" fill="#000"/>
<rect x="1278" y="166" width="3" height="21" fill="#1b5235"/>
<rect x="1279" y="167" width="1" height="19" fill="#5fa57d"/>
<rect x="1284" y="158" width="1" height="13" fill="#000"/>
<rect x="1283" y="160" width="3" height="8" fill="#1b5235"/>
<rect x="1284" y="161" width="1" height="6" fill="#5fa57d"/>
<rect x="1288" y="141" width="1" height="20" fill="#000"/>
<rect x="1287" y="145" width="3" height="16" fill="#1b5235"/>
<rect x="1288" y="146" width="1" height="14" fill="#5fa57d"/>
<rect x="1293" y="141" width="1" height="29" fill="#000"/>
<rect x="1292" y="145" width="3" height="17" fill="#5e1810"/>
<rect x="1293" y="146" width="1" height="15" fill="#d8533d"/>
</g>
<circle cx="248" cy="721.3" r="0.8" fill="#e91e63"/>
</g>
<rect x="411" y="254.6" width="166.2" height="29" rx="4" fill="#fff" filter="url(#sh)"/>
<text x="421.4" y="274.4" font-size="14" fill="#131722" text-anchor="start" textLength="144.6" lengthAdjust="spacingAndGlyphs" >917.63 (35.54%) 91,763</text>
<text x="18.0" y="45.8" font-size="12" fill="#131722" text-anchor="start" textLength="200.5" lengthAdjust="spacingAndGlyphs" >Gold Spot / U.S. Dollar · 1D · FXOpen</text>
<text x="226.8" y="45.8" font-size="12" fill="#131722" text-anchor="start" textLength="6.6" lengthAdjust="spacingAndGlyphs" >O</text>
<text x="233.6" y="45.8" font-size="12" fill="#7f2f2b" text-anchor="start" textLength="46.9" lengthAdjust="spacingAndGlyphs" >4,042.02</text>
<text x="288.9" y="45.8" font-size="12" fill="#131722" text-anchor="start" textLength="7.4" lengthAdjust="spacingAndGlyphs" >H</text>
<text x="296.5" y="45.8" font-size="12" fill="#7f2f2b" text-anchor="start" textLength="46.4" lengthAdjust="spacingAndGlyphs" >4,057.74</text>
<text x="350.9" y="45.8" font-size="12" fill="#131722" text-anchor="start" textLength="5.6" lengthAdjust="spacingAndGlyphs" >L</text>
<text x="356.6" y="45.8" font-size="12" fill="#7f2f2b" text-anchor="start" textLength="45.3" lengthAdjust="spacingAndGlyphs" >3,943.73</text>
<text x="409.8" y="45.8" font-size="12" fill="#131722" text-anchor="start" textLength="6.8" lengthAdjust="spacingAndGlyphs" >C</text>
<text x="416.9" y="45.8" font-size="12" fill="#7f2f2b" text-anchor="start" textLength="46.7" lengthAdjust="spacingAndGlyphs" >3,975.19</text>
<text x="471.1" y="45.8" font-size="12" fill="#7f2f2b" text-anchor="start" textLength="83.9" lengthAdjust="spacingAndGlyphs" >−65.23 (−1.61%)</text>
<text x="18.0" y="62.8" font-size="12" fill="#131722" text-anchor="start" textLength="81.2" lengthAdjust="spacingAndGlyphs" >SMA (50, close)</text>
<text x="107.1" y="62.8" font-size="12" fill="#ff9800" text-anchor="start" textLength="46.2" lengthAdjust="spacingAndGlyphs" >3,579.28</text>
<text x="18.0" y="79.8" font-size="12" fill="#131722" text-anchor="start" textLength="87.6" lengthAdjust="spacingAndGlyphs" >SMA (200, close)</text>
<text x="113.6" y="79.8" font-size="12" fill="#2962ff" text-anchor="start" textLength="46.2" lengthAdjust="spacingAndGlyphs" >3,232.35</text>
<text x="18.0" y="96.8" font-size="12" fill="#131722" text-anchor="start" textLength="81.2" lengthAdjust="spacingAndGlyphs" >SMA (10, close)</text>
<text x="107.1" y="96.8" font-size="12" fill="#f06292" text-anchor="start" textLength="46.2" lengthAdjust="spacingAndGlyphs" >3,901.67</text>
<text x="18.0" y="113.8" font-size="12" fill="#131722" text-anchor="start" textLength="81.2" lengthAdjust="spacingAndGlyphs" >SMA (20, close)</text>
<text x="107.1" y="113.8" font-size="12" fill="#b23aff" text-anchor="start" textLength="46.2" lengthAdjust="spacingAndGlyphs" >3,800.48</text>
<text x="18.0" y="130.8" font-size="12" fill="#131722" text-anchor="start" textLength="135.3" lengthAdjust="spacingAndGlyphs" >Pivots HL (10, 10, 10, 10)</text>
<line x1="11.0" y1="98.0" x2="300.0" y2="98.0" stroke="#2389c4" stroke-width="2" />
<line x1="11.0" y1="751.5" x2="1620.0" y2="751.5" stroke="#e0e3eb" stroke-width="1" />
<g clip-path="url(#rsi)">
<rect x="11.0" y="789.8" width="1543.5" height="73.6" fill="#f2eff9" />
<path d="M10.3,790.4 L15.2,794.2 L24.9,796.7 L29.8,803.3 L39.5,822.4 L49.2,803.3 L54.1,808.0 L58.9,803.3 L63.8,799.2 L68.7,794.2 L73.5,786.4 L78.4,787.3 L83.2,780.5 L88.1,799.5 L93.0,794.2 L97.8,791.2 L102.7,794.2 L107.5,786.4 L112.4,783.5 L117.2,805.3 L122.1,808.8 L127.0,808.8 L131.8,805.8 L136.7,838.4 L141.5,822.9 L146.4,829.8 L151.3,845.0 L156.1,849.7 L161.0,854.3 L165.8,856.0 L170.7,856.3 L175.6,838.4 L180.4,831.5 L185.3,826.5 L190.2,821.5 L195.0,810.3 L199.9,834.0 L204.7,831.8 L209.6,831.1 L214.4,830.6 L219.3,827.3 L224.2,830.1 L229.0,829.0 L233.9,826.8 L238.8,832.6 L243.6,832.3 L248.5,821.5 L253.3,811.9 L258.2,805.5 L263.1,818.2 L267.9,829.0 L272.8,827.8 L277.6,829.8 L282.5,846.7 L287.4,843.4 L292.2,833.5 L297.1,836.4 L301.9,835.9 L306.8,829.0 L311.7,832.6 L316.5,838.1 L321.4,830.1 L326.2,819.1 L331.1,825.7 L336.0,827.0 L340.8,822.4 L345.7,818.2 L350.5,814.9 L355.4,809.1 L360.3,819.9 L365.1,814.9 L370.0,809.1 L374.8,803.7 L379.7,809.5 L384.6,808.3 L389.4,796.7 L394.3,793.7 L399.1,794.7 L404.0,790.9 L408.9,806.1 L413.7,800.0 L418.6,801.7 L423.4,792.6 L428.3,791.7 L433.2,788.8 L438.0,781.8 L442.9,777.2 L447.7,783.1 L452.6,782.1 L457.5,773.9 L462.3,779.6 L467.2,778.2 L472.0,774.4 L476.9,797.5 L481.8,794.2 L486.6,786.4 L491.5,787.1 L496.3,785.9 L501.2,787.9 L506.1,784.8 L510.9,803.3 L515.8,803.0 L520.6,819.9 L525.5,827.3 L530.4,815.7 L535.2,808.8 L540.1,808.3 L544.9,811.6 L549.8,812.1 L554.7,821.2 L559.5,811.6 L564.4,806.6 L569.2,792.9 L574.1,795.0 L579.0,791.2 L583.8,784.6 L588.7,782.1 L593.5,783.5 L598.4,794.5 L603.3,800.3 L608.1,797.9 L613.0,798.4 L617.8,789.7 L622.7,783.1 L627.6,776.3 L632.4,781.3 L637.3,778.5 L642.1,787.1 L647.0,818.2 L651.9,833.6 L656.7,833.6 L661.6,808.8 L666.4,794.7 L671.3,787.1 L676.2,794.2 L681.0,791.7 L685.9,780.1 L690.7,784.3 L695.6,776.0 L700.5,786.4 L705.3,805.3 L710.2,798.9 L715.0,804.5 L719.9,801.7 L724.8,806.6 L729.6,811.9 L734.5,821.2 L739.3,821.2 L744.2,808.8 L749.1,797.0 L753.9,808.8 L758.8,818.2 L763.6,815.2 L768.5,828.5 L773.4,826.8 L778.2,836.1 L783.1,827.3 L787.9,832.3 L792.8,828.5 L797.7,819.9 L802.5,816.6 L807.4,819.9 L812.2,811.3 L817.1,814.1 L822.0,821.0 L826.8,823.5 L831.7,818.7 L836.5,824.0 L841.4,810.3 L846.3,815.2 L851.1,812.8 L856.0,816.9 L860.8,824.4 L865.7,821.9 L870.6,822.0 L875.4,816.6 L880.3,811.3 L885.1,804.2 L890.0,814.9 L894.9,814.4 L899.7,818.2 L904.6,818.2 L909.4,819.1 L914.3,819.1 L919.2,830.1 L924.0,827.3 L928.9,829.0 L933.7,841.4 L938.6,833.1 L943.5,824.4 L948.3,819.9 L953.2,828.2 L958.0,824.8 L962.9,824.8 L967.8,834.5 L972.6,831.1 L977.5,828.2 L982.3,819.1 L987.2,822.9 L992.1,828.5 L996.9,821.5 L1001.8,824.4 L1006.6,821.0 L1011.5,808.3 L1016.4,800.5 L1021.2,814.9 L1026.1,820.7 L1030.9,829.3 L1035.8,835.3 L1040.7,832.0 L1045.5,843.6 L1050.4,839.3 L1055.2,819.9 L1060.1,817.7 L1065.0,816.1 L1069.8,819.4 L1074.7,812.9 L1079.5,812.8 L1084.4,829.0 L1089.2,827.3 L1094.1,824.8 L1099.0,831.0 L1103.8,831.0 L1108.7,832.3 L1113.5,837.3 L1118.4,825.3 L1123.3,828.7 L1128.1,817.9 L1133.0,819.9 L1137.8,811.9 L1142.7,810.4 L1147.6,804.6 L1152.4,796.7 L1157.3,790.4 L1162.2,781.5 L1167.0,777.7 L1171.9,783.1 L1176.7,777.7 L1181.6,771.9 L1186.5,776.0 L1191.3,774.0 L1196.2,777.2 L1201.0,776.0 L1205.9,771.0 L1210.8,769.7 L1215.6,783.5 L1220.5,790.9 L1225.3,783.5 L1230.2,775.7 L1235.0,773.5 L1239.9,784.8 L1244.8,783.0 L1249.6,781.5 L1254.5,772.4 L1259.3,769.7 L1264.2,768.9 L1269.1,773.0 L1273.9,769.7 L1278.8,763.3 L1283.7,761.6 L1288.5,757.8 L1293.4,781.5 L1293.4,790.4 L10.3,790.4 Z" fill="url(#gg)" clip-path="url(#ob)"/>
<line x1="10.2" y1="790.5" x2="1555.0" y2="790.5" stroke="#787b86" stroke-width="1.1" stroke-dasharray="5,6"/>
<line x1="10.2" y1="826.5" x2="1555.0" y2="826.5" stroke="#b2b5be" stroke-width="1.1" stroke-dasharray="5,6"/>
<line x1="10.2" y1="863.5" x2="1555.0" y2="863.5" stroke="#787b86" stroke-width="1.1" stroke-dasharray="5,6"/>
<polyline points="10.3,790.4 15.2,794.2 24.9,796.7 29.8,803.3 39.5,822.4 49.2,803.3 54.1,808.0 58.9,803.3 63.8,799.2 68.7,794.2 73.5,786.4 78.4,787.3 83.2,780.5 88.1,799.5 93.0,794.2 97.8,791.2 102.7,794.2 107.5,786.4 112.4,783.5 117.2,805.3 122.1,808.8 127.0,808.8 131.8,805.8 136.7,838.4 141.5,822.9 146.4,829.8 151.3,845.0 156.1,849.7 161.0,854.3 165.8,856.0 170.7,856.3 175.6,838.4 180.4,831.5 185.3,826.5 190.2,821.5 195.0,810.3 199.9,834.0 204.7,831.8 209.6,831.1 214.4,830.6 219.3,827.3 224.2,830.1 229.0,829.0 233.9,826.8 238.8,832.6 243.6,832.3 248.5,821.5 253.3,811.9 258.2,805.5 263.1,818.2 267.9,829.0 272.8,827.8 277.6,829.8 282.5,846.7 287.4,843.4 292.2,833.5 297.1,836.4 301.9,835.9 306.8,829.0 311.7,832.6 316.5,838.1 321.4,830.1 326.2,819.1 331.1,825.7 336.0,827.0 340.8,822.4 345.7,818.2 350.5,814.9 355.4,809.1 360.3,819.9 365.1,814.9 370.0,809.1 374.8,803.7 379.7,809.5 384.6,808.3 389.4,796.7 394.3,793.7 399.1,794.7 404.0,790.9 408.9,806.1 413.7,800.0 418.6,801.7 423.4,792.6 428.3,791.7 433.2,788.8 438.0,781.8 442.9,777.2 447.7,783.1 452.6,782.1 457.5,773.9 462.3,779.6 467.2,778.2 472.0,774.4 476.9,797.5 481.8,794.2 486.6,786.4 491.5,787.1 496.3,785.9 501.2,787.9 506.1,784.8 510.9,803.3 515.8,803.0 520.6,819.9 525.5,827.3 530.4,815.7 535.2,808.8 540.1,808.3 544.9,811.6 549.8,812.1 554.7,821.2 559.5,811.6 564.4,806.6 569.2,792.9 574.1,795.0 579.0,791.2 583.8,784.6 588.7,782.1 593.5,783.5 598.4,794.5 603.3,800.3 608.1,797.9 613.0,798.4 617.8,789.7 622.7,783.1 627.6,776.3 632.4,781.3 637.3,778.5 642.1,787.1 647.0,818.2 651.9,833.6 656.7,833.6 661.6,808.8 666.4,794.7 671.3,787.1 676.2,794.2 681.0,791.7 685.9,780.1 690.7,784.3 695.6,776.0 700.5,786.4 705.3,805.3 710.2,798.9 715.0,804.5 719.9,801.7 724.8,806.6 729.6,811.9 734.5,821.2 739.3,821.2 744.2,808.8 749.1,797.0 753.9,808.8 758.8,818.2 763.6,815.2 768.5,828.5 773.4,826.8 778.2,836.1 783.1,827.3 787.9,832.3 792.8,828.5 797.7,819.9 802.5,816.6 807.4,819.9 812.2,811.3 817.1,814.1 822.0,821.0 826.8,823.5 831.7,818.7 836.5,824.0 841.4,810.3 846.3,815.2 851.1,812.8 856.0,816.9 860.8,824.4 865.7,821.9 870.6,822.0 875.4,816.6 880.3,811.3 885.1,804.2 890.0,814.9 894.9,814.4 899.7,818.2 904.6,818.2 909.4,819.1 914.3,819.1 919.2,830.1 924.0,827.3 928.9,829.0 933.7,841.4 938.6,833.1 943.5,824.4 948.3,819.9 953.2,828.2 958.0,824.8 962.9,824.8 967.8,834.5 972.6,831.1 977.5,828.2 982.3,819.1 987.2,822.9 992.1,828.5 996.9,821.5 1001.8,824.4 1006.6,821.0 1011.5,808.3 1016.4,800.5 1021.2,814.9 1026.1,820.7 1030.9,829.3 1035.8,835.3 1040.7,832.0 1045.5,843.6 1050.4,839.3 1055.2,819.9 1060.1,817.7 1065.0,816.1 1069.8,819.4 1074.7,812.9 1079.5,812.8 1084.4,829.0 1089.2,827.3 1094.1,824.8 1099.0,831.0 1103.8,831.0 1108.7,832.3 1113.5,837.3 1118.4,825.3 1123.3,828.7 1128.1,817.9 1133.0,819.9 1137.8,811.9 1142.7,810.4 1147.6,804.6 1152.4,796.7 1157.3,790.4 1162.2,781.5 1167.0,777.7 1171.9,783.1 1176.7,777.7 1181.6,771.9 1186.5,776.0 1191.3,774.0 1196.2,777.2 1201.0,776.0 1205.9,771.0 1210.8,769.7 1215.6,783.5 1220.5,790.9 1225.3,783.5 1230.2,775.7 1235.0,773.5 1239.9,784.8 1244.8,783.0 1249.6,781.5 1254.5,772.4 1259.3,769.7 1264.2,768.9 1269.1,773.0 1273.9,769.7 1278.8,763.3 1283.7,761.6 1288.5,757.8 1293.4,781.5" fill="none" stroke="#5f38b6" stroke-width="2" stroke-linejoin="round" stroke-linecap="round" />
</g>
<text x="18.3" y="771.2" font-size="12" fill="#131722" text-anchor="start" textLength="75.8" lengthAdjust="spacingAndGlyphs" >RSI (14, close)</text>
<text x="102.0" y="771.2" font-size="12" fill="#7e57c2" text-anchor="start" textLength="29.3" lengthAdjust="spacingAndGlyphs" >74.80</text>
<text x="1564.3" y="84.0" font-size="12" fill="#131722" text-anchor="start" textLength="46.0" lengthAdjust="spacingAndGlyphs" >4,300.00</text>
<text x="1564.3" y="133.4" font-size="12" fill="#131722" text-anchor="start" textLength="46.0" lengthAdjust="spacingAndGlyphs" >4,100.00</text>
<text x="1564.3" y="240.0" font-size="12" fill="#131722" text-anchor="start" textLength="46.0" lengthAdjust="spacingAndGlyphs" >3,700.00</text>
<text x="1564.3" y="327.8" font-size="12" fill="#131722" text-anchor="start" textLength="46.0" lengthAdjust="spacingAndGlyphs" >3,400.00</text>
<text x="1564.3" y="358.7" font-size="12" fill="#131722" text-anchor="start" textLength="46.0" lengthAdjust="spacingAndGlyphs" >3,300.00</text>
<text x="1564.3" y="390.7" font-size="12" fill="#131722" text-anchor="start" textLength="46.0" lengthAdjust="spacingAndGlyphs" >3,200.00</text>
<text x="1564.3" y="430.4" font-size="12" fill="#131722" text-anchor="start" textLength="46.0" lengthAdjust="spacingAndGlyphs" >3,080.00</text>
<text x="1564.3" y="471.6" font-size="12" fill="#131722" text-anchor="start" textLength="46.0" lengthAdjust="spacingAndGlyphs" >2,960.00</text>
<text x="1564.3" y="514.6" font-size="12" fill="#131722" text-anchor="start" textLength="46.0" lengthAdjust="spacingAndGlyphs" >2,840.00</text>
<text x="1564.3" y="551.8" font-size="12" fill="#131722" text-anchor="start" textLength="46.0" lengthAdjust="spacingAndGlyphs" >2,740.00</text>
<text x="1564.3" y="590.4" font-size="12" fill="#131722" text-anchor="start" textLength="46.0" lengthAdjust="spacingAndGlyphs" >2,640.00</text>
<text x="1564.3" y="622.3" font-size="12" fill="#131722" text-anchor="start" textLength="46.0" lengthAdjust="spacingAndGlyphs" >2,560.00</text>
<text x="1564.3" y="655.3" font-size="12" fill="#131722" text-anchor="start" textLength="46.0" lengthAdjust="spacingAndGlyphs" >2,480.00</text>
<text x="1564.3" y="689.3" font-size="12" fill="#131722" text-anchor="start" textLength="46.0" lengthAdjust="spacingAndGlyphs" >2,400.00</text>
<text x="1564.3" y="720.0" font-size="12" fill="#131722" text-anchor="start" textLength="46.0" lengthAdjust="spacingAndGlyphs" >2,330.00</text>
<text x="1564.3" y="750.8" font-size="12" fill="#131722" text-anchor="start" textLength="46.0" lengthAdjust="spacingAndGlyphs" >2,262.00</text>
<text x="1564.3" y="775.7" font-size="12" fill="#131722" text-anchor="start" textLength="29.5" lengthAdjust="spacingAndGlyphs" >80.00</text>
<text x="1564.3" y="812.2" font-size="12" fill="#131722" text-anchor="start" textLength="29.5" lengthAdjust="spacingAndGlyphs" >60.00</text>
<text x="1564.3" y="848.6" font-size="12" fill="#131722" text-anchor="start" textLength="29.5" lengthAdjust="spacingAndGlyphs" >40.00</text>
<rect x="1559.5" y="31.5" width="57.5" height="26" rx="4" fill="#fff" stroke="#ececee" stroke-width="1.5"/>
<text x="1568.0" y="48.8" font-size="12" fill="#131722" text-anchor="start" textLength="21.0" lengthAdjust="spacingAndGlyphs" >USD</text>
<rect x="1522.4" y="133.4" width="32.1" height="16.4" fill="#e3effd" />
<text x="1527.6" y="145.3" font-size="12" fill="#131722" text-anchor="start" textLength="22.5" lengthAdjust="spacingAndGlyphs" >High</text>
<path d="M1556,133.4 h58 a2,2 0 0 1 2,2 v12.399999999999999 a2,2 0 0 1 -2,2 h-58 z" fill="#e3effd"/>
<text x="1564.3" y="145.2" font-size="12" fill="#131722" text-anchor="start" textLength="46.0" lengthAdjust="spacingAndGlyphs" >4,059.09</text>
<rect x="1525.0" y="620.4" width="29.5" height="16.4" fill="#e3effd" />
<text x="1531.0" y="632.3" font-size="12" fill="#131722" text-anchor="start" textLength="21.0" lengthAdjust="spacingAndGlyphs" >Low</text>
<path d="M1556,620.4 h58 a2,2 0 0 1 2,2 v12.399999999999999 a2,2 0 0 1 -2,2 h-58 z" fill="#e3effd"/>
<text x="1564.3" y="632.2" font-size="12" fill="#131722" text-anchor="start" textLength="46.0" lengthAdjust="spacingAndGlyphs" >2,536.79</text>
<path d="M1556,154.3 h58 a2,2 0 0 1 2,2 v26.7 a2,2 0 0 1 -2,2 h-58 z" fill="#d1503f"/>
<text x="1564.3" y="166.5" font-size="12" fill="#fff" text-anchor="start" font-weight="bold" textLength="46.0" lengthAdjust="spacingAndGlyphs" >3,975.19</text>
<text x="1564.3" y="180.1" font-size="12" fill="#ffe3dc" text-anchor="start" textLength="29.5" lengthAdjust="spacingAndGlyphs" >58:50</text>
<path d="M1556,185 h58 a2,2 0 0 1 2,2 v13 a2,2 0 0 1 -2,2 h-58 z" fill="#f06292"/>
<text x="1564.3" y="197.1" font-size="12" fill="#fff" text-anchor="start" font-weight="bold" textLength="46.0" lengthAdjust="spacingAndGlyphs" >3,901.67</text>
<path d="M1556,202 h58 a2,2 0 0 1 2,2 v12.600000000000001 a2,2 0 0 1 -2,2 h-58 z" fill="#aa33ff"/>
<text x="1564.3" y="213.9" font-size="12" fill="#fff" text-anchor="start" font-weight="bold" textLength="46.0" lengthAdjust="spacingAndGlyphs" >3,800.48</text>
<path d="M1556,263.2 h58 a2,2 0 0 1 2,2 v12.399999999999999 a2,2 0 0 1 -2,2 h-58 z" fill="#ff9800"/>
<text x="1564.3" y="275.0" font-size="12" fill="#131722" text-anchor="start" textLength="46.0" lengthAdjust="spacingAndGlyphs" >3,579.28</text>
<path d="M1556,286.1 h58 a2,2 0 0 1 2,2 v12.399999999999999 a2,2 0 0 1 -2,2 h-58 z" fill="#000000"/>
<text x="1564.3" y="297.9" font-size="12" fill="#fff" text-anchor="start" font-weight="bold" textLength="46.0" lengthAdjust="spacingAndGlyphs" >3,499.94</text>
<path d="M1556,369.3 h58 a2,2 0 0 1 2,2 v12.399999999999999 a2,2 0 0 1 -2,2 h-58 z" fill="#2962ff"/>
<text x="1564.3" y="381.1" font-size="12" fill="#fff" text-anchor="start" font-weight="bold" textLength="46.0" lengthAdjust="spacingAndGlyphs" >3,232.35</text>
<path d="M1556,773 h40.5 a2,2 0 0 1 2,2 v12.8 a2,2 0 0 1 -2,2 h-40.5 z" fill="#673ab7"/>
<text x="1564.3" y="786.1" font-size="12" fill="#fff" text-anchor="start" font-weight="bold" textLength="29.5" lengthAdjust="spacingAndGlyphs" >74.80</text>
<rect x="1555.0" y="28.0" width="1.0" height="869.0" fill="#cc0000" />
<rect x="11.0" y="870.0" width="1610.0" height="1.0" fill="#cc0000" />
<text x="122.5" y="887.9" font-size="12" fill="#131722" text-anchor="middle" >Nov</text>
<text x="224.6" y="887.9" font-size="12" fill="#131722" text-anchor="middle" >Dec</text>
<text x="326.6" y="887.9" font-size="12" fill="#131722" text-anchor="middle" font-weight="bold" >2025</text>
<text x="433.6" y="887.9" font-size="12" fill="#131722" text-anchor="middle" >Feb</text>
<text x="530.8" y="887.9" font-size="12" fill="#131722" text-anchor="middle" >Mar</text>
<text x="632.8" y="887.9" font-size="12" fill="#131722" text-anchor="middle" >Apr</text>
<text x="734.9" y="887.9" font-size="12" fill="#131722" text-anchor="middle" >May</text>
<text x="841.8" y="887.9" font-size="12" fill="#131722" text-anchor="middle" >Jun</text>
<text x="943.9" y="887.9" font-size="12" fill="#131722" text-anchor="middle" >Jul</text>
<text x="1055.6" y="887.9" font-size="12" fill="#131722" text-anchor="middle" >Aug</text>
<text x="1157.7" y="887.9" font-size="12" fill="#131722" text-anchor="middle" >Sep</text>
<text x="1264.6" y="887.9" font-size="12" fill="#131722" text-anchor="middle" >Oct</text>
<text x="1376.4" y="887.9" font-size="12" fill="#131722" text-anchor="middle" >Nov</text>
<text x="1473.6" y="887.9" font-size="12" fill="#131722" text-anchor="middle" >Dec</text>
<g clip-path="url(#main)" transform="translate(0,0)"></g>
<clipPath id="tclip"><rect x="11" y="871" width="1544" height="26"/></clipPath>
<g clip-path="url(#tclip)">
<text x="19.0" y="887.9" font-size="12" fill="#131722" text-anchor="end" >Oct</text>
</g>
<g fill="#1a1a1a"><path d="M12,920 H24 V934.8 H18 V926.2 H12 Z"/><circle cx="28.8" cy="923" r="2.6"/><path d="M32.9,920 H41.7 L36.8,934.8 H29.1 Z"/></g>
<text x="49.0" y="934.7" font-size="20.5" fill="#1a1a1a" text-anchor="start" font-weight="bold" textLength="120.8" lengthAdjust="spacingAndGlyphs" >TradingView</text>
</svg>
</body></html>
